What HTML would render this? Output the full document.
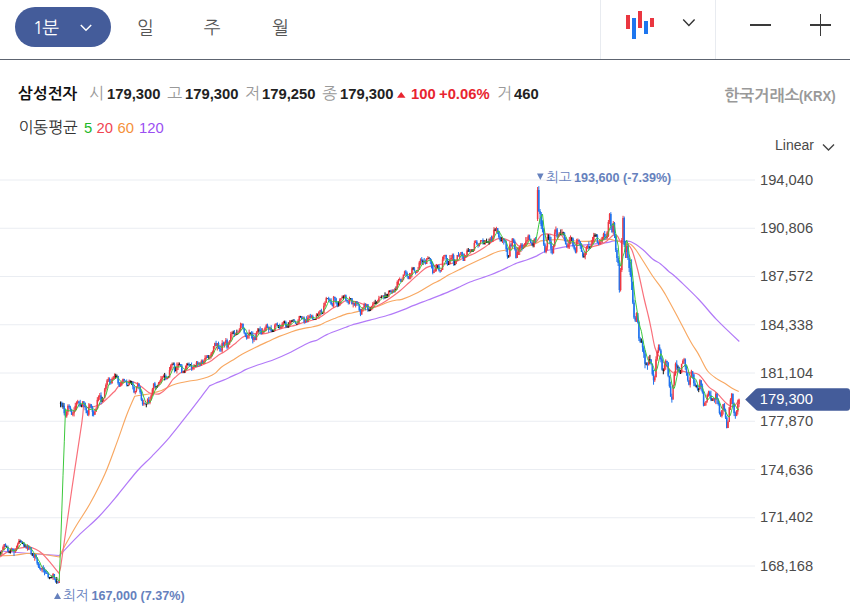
<!DOCTYPE html>
<html lang="ko"><head><meta charset="utf-8">
<style>
*{margin:0;padding:0;box-sizing:border-box}
html,body{width:862px;height:613px;overflow:hidden;background:#fff}
body{position:relative;font-family:"Liberation Sans","Noto Sans CJK KR",sans-serif;color:#222}
.abs{position:absolute}
#hdr{position:absolute;left:0;top:0;width:850px;height:60px;border-bottom:1px solid #5d6470}
#btn{position:absolute;left:15px;top:7px;width:96px;height:40px;border-radius:20px;background:#445c9a}
#btn .t{position:absolute;left:17.8px;top:8.7px;letter-spacing:-1.4px;font-size:18px;color:#fff;line-height:24px;font-family:"NanumGothic",sans-serif}
.tab{position:absolute;top:16px;font-size:18px;line-height:24px;color:#555;font-family:"NanumGothic",sans-serif}
.sep{position:absolute;top:0;width:1px;height:59px;background:#e8ebf0}
#info{position:absolute;left:0;top:83px;width:600px;height:22px}
#info .k{position:absolute;top:0;font-size:14.8px;line-height:20px;white-space:nowrap}
#info b{font-weight:bold;color:#222;font-size:15.4px !important;transform:scaleX(0.96);margin-top:1px;transform-origin:0 50%}
#info .g{color:#999;font-family:"NanumGothic",sans-serif;font-size:16px;top:0px}
#info .r{color:#e8242f;font-weight:bold}
#info .n{font-weight:bold;font-size:15.8px;top:0.6px;font-family:"NanumGothic",sans-serif;color:#111}
#krx{position:absolute;left:0;top:84px;width:862px;height:22px;line-height:20px;color:#999;font-weight:bold;white-space:nowrap}
#ma{position:absolute;left:0;top:117px;width:300px;height:22px;color:#333}
#ma .k{position:absolute;top:0;font-size:14.8px;line-height:20px;white-space:nowrap}
#linear{position:absolute;left:775px;top:135px;font-size:14px;line-height:20px;color:#4a4a4a}
.yl{position:absolute;left:760.3px;font-size:15.3px;line-height:18px;color:#4b4b4b;transform:scaleX(0.96);transform-origin:0 50%}
#cur{position:absolute;left:745px;top:388px;width:105px;height:23px}
#cur .t{position:absolute;left:16px;top:2px;font-size:14px;line-height:18px;color:#fff}
.ann{position:absolute;font-size:12.6px;line-height:16px;color:#6681bd;white-space:nowrap}
.ann.h{font-family:"NanumGothic",sans-serif;font-size:13.6px;font-weight:400;line-height:18px}
.ann b{font-weight:bold}
</style></head><body>
<div id="hdr">
  <div id="btn"><div class="t">1분</div>
    <svg class="abs" style="left:65px;top:17px" width="12" height="8" viewBox="0 0 12 8"><polyline points="0.8,1 6,6.2 11.2,1" fill="none" stroke="#fff" stroke-width="1.5"/></svg>
  </div>
  <div class="tab" style="left:137px">일</div>
  <div class="tab" style="left:203.8px">주</div>
  <div class="tab" style="left:272px">월</div>
  <div class="sep" style="left:600px"></div>
  <div class="sep" style="left:715px"></div>
  <svg class="abs" style="left:620px;top:5px" width="40" height="40" viewBox="620 5 40 40">
    <rect x="626" y="15" width="4" height="14" fill="#ea3640"/>
    <rect x="632" y="18" width="4" height="21" fill="#1d76ef"/>
    <rect x="638" y="11" width="4" height="17" fill="#ea3640"/>
    <rect x="644" y="21" width="4" height="13" fill="#1d76ef"/>
    <rect x="650" y="18" width="4" height="9" fill="#ea3640"/>
  </svg>
  <svg class="abs" style="left:682px;top:18px" width="14" height="10" viewBox="0 0 14 10"><polyline points="1.2,1.6 6.9,7.4 12.6,1.6" fill="none" stroke="#333" stroke-width="1.4"/></svg>
  <div class="abs" style="left:750px;top:24.1px;width:21px;height:1.7px;background:#3a3a3a"></div>
  <div class="abs" style="left:810px;top:24.1px;width:21px;height:1.7px;background:#3a3a3a"></div>
  <div class="abs" style="left:819.7px;top:14px;width:1.7px;height:22px;background:#3a3a3a"></div>
</div>
<div id="info">
<span class="k n" style="left:18px">삼성전자</span>
<span class="k g" style="left:89px">시</span><b class="k" style="left:107px">179,300</b>
<span class="k g" style="left:167px">고</span><b class="k" style="left:185px">179,300</b>
<span class="k g" style="left:245px">저</span><b class="k" style="left:262px">179,250</b>
<span class="k g" style="left:322px">종</span><b class="k" style="left:340px">179,300</b>
<svg class="k" style="left:396px;top:8px" width="11" height="8" viewBox="396 91 11 8"><polygon points="397,97.8 401.2,92 405.5,97.8" fill="#e8242f"/></svg><b class="k r" style="left:411px">100</b><b class="k r" style="left:439px">+0.06%</b>
<span class="k g" style="left:497px">거</span><b class="k" style="left:514px">460</b>
</div>
<div id="krx"><span style="position:absolute;left:724.3px;top:2px;font-family:'NanumGothic',sans-serif;font-weight:bold;font-size:16px">한국거래소</span><span style="position:absolute;left:799px;top:2px;font-size:15.5px;transform:scaleX(0.85);transform-origin:0 50%">(KRX)</span></div>
<div id="ma"><span class="k" style="left:18.5px;font-family:'NanumGothic',sans-serif;font-size:15.8px;top:0.4px">이동평균</span><span class="k" style="left:84px;top:1px;color:#22b82a">5</span><span class="k" style="left:96.5px;top:1px;color:#f04552">20</span><span class="k" style="left:117.5px;top:1px;color:#f5913a">60</span><span class="k" style="left:139px;top:1px;color:#9b4ff2">120</span></div>
<div id="linear">Linear</div>
<svg class="abs" style="left:822px;top:143px" width="14" height="9" viewBox="0 0 14 9"><polyline points="1,1.5 6.5,7 12,1.5" fill="none" stroke="#444" stroke-width="1.4"/></svg>
<svg class="abs" style="left:0;top:0" width="862" height="613">
<line x1="0" y1="180.00" x2="755" y2="180.00" stroke="#eaedf2" stroke-width="1"/>
<line x1="0" y1="228.25" x2="755" y2="228.25" stroke="#eaedf2" stroke-width="1"/>
<line x1="0" y1="276.50" x2="755" y2="276.50" stroke="#eaedf2" stroke-width="1"/>
<line x1="0" y1="324.75" x2="755" y2="324.75" stroke="#eaedf2" stroke-width="1"/>
<line x1="0" y1="373.00" x2="755" y2="373.00" stroke="#eaedf2" stroke-width="1"/>
<line x1="0" y1="421.25" x2="755" y2="421.25" stroke="#eaedf2" stroke-width="1"/>
<line x1="0" y1="469.50" x2="755" y2="469.50" stroke="#eaedf2" stroke-width="1"/>
<line x1="0" y1="517.75" x2="755" y2="517.75" stroke="#eaedf2" stroke-width="1"/>
<line x1="0" y1="566.00" x2="755" y2="566.00" stroke="#eaedf2" stroke-width="1"/>
<path d="M0.00,551.00 C0.00,551.00 20.08,552.75 30.00,553.50 C39.92,554.25 59.50,555.50 59.50,555.50 C59.50,555.50 71.92,542.10 78.50,535.60 C85.08,529.10 92.40,523.35 99.00,516.50 C105.60,509.65 111.73,502.08 118.10,494.50 C124.47,486.92 131.57,477.37 137.20,471.00 C142.83,464.63 146.52,461.92 151.90,456.30 C157.28,450.68 163.63,444.15 169.50,437.30 C175.37,430.45 181.72,422.07 187.10,415.20 C192.48,408.33 198.07,400.98 201.80,396.10 C205.29,391.53 209.50,385.90 209.50,385.90 C209.50,385.90 213.07,384.27 215.40,383.30 C217.73,382.33 220.78,381.25 223.50,380.10 C226.22,378.95 228.97,377.63 231.70,376.40 C234.43,375.17 237.68,373.78 239.90,372.70 C242.12,371.62 242.61,370.96 245.00,369.90 C247.52,368.78 250.45,367.61 255.00,366.00 C259.67,364.35 267.33,362.17 273.00,360.00 C278.67,357.83 283.03,355.88 289.00,353.00 C294.97,350.12 304.07,344.87 308.80,342.70 C312.49,341.01 314.40,341.35 317.40,340.00 C320.40,338.65 322.35,336.59 326.80,334.60 C331.57,332.47 341.80,328.80 346.00,327.20 C348.69,326.18 349.24,325.81 352.00,325.00 C355.98,323.83 363.93,321.82 369.90,320.20 C375.87,318.58 382.28,317.02 387.80,315.30 C393.32,313.58 398.67,311.55 403.00,309.90 C407.33,308.25 409.67,307.05 413.80,305.40 C417.93,303.75 422.63,302.00 427.80,300.00 C432.97,298.00 439.43,295.62 444.80,293.40 C450.17,291.18 455.80,288.60 460.00,286.70 C464.20,284.80 465.36,283.80 470.00,282.00 C475.03,280.05 485.05,276.92 490.20,275.00 C495.10,273.18 496.43,272.50 500.90,270.50 C505.37,268.50 512.72,264.75 517.00,263.00 C521.19,261.29 523.37,261.15 526.60,260.00 C529.83,258.85 533.27,257.57 536.40,256.10 C539.53,254.63 542.40,252.38 545.40,251.20 C548.40,250.02 551.42,249.67 554.40,249.00 C557.38,248.33 560.03,247.80 563.30,247.20 C566.57,246.60 571.22,245.70 574.00,245.40 C576.68,245.11 577.52,245.55 580.00,245.40 C582.48,245.25 585.92,244.80 588.90,244.50 C591.88,244.20 594.90,243.90 597.90,243.60 C600.90,243.30 604.22,243.15 606.90,242.70 C609.58,242.25 611.32,241.13 614.00,240.90 C616.68,240.67 620.17,241.15 623.00,241.30 C625.83,241.45 627.72,240.43 631.00,241.80 C634.28,243.17 639.10,246.63 642.70,249.50 C646.30,252.37 649.62,256.60 652.60,259.00 C655.58,261.40 658.03,261.95 660.60,263.90 C663.17,265.85 665.77,268.77 668.00,270.70 C670.23,272.63 672.00,273.78 674.00,275.50 C676.00,277.22 677.37,278.45 680.00,281.00 C684.22,285.08 693.23,293.60 699.30,300.00 C705.37,306.40 709.73,312.48 716.40,319.40 C723.07,326.32 739.30,341.50 739.30,341.50" fill="none" stroke="#b27af8" stroke-width="1.2"/>
<path d="M0.00,555.70 C0.00,555.70 9.32,555.70 14.70,555.30 C20.08,554.90 24.83,553.02 32.30,553.30 C39.77,553.58 59.50,557.00 59.50,557.00 C59.50,557.00 60.90,553.20 60.90,553.20 C60.90,553.20 70.72,535.12 75.60,526.80 C80.48,518.48 85.32,512.10 90.20,503.30 C95.08,494.50 100.48,484.03 104.90,474.00 C109.32,463.97 113.07,452.93 116.70,443.10 C120.33,433.27 123.70,422.80 126.70,415.00 C129.70,407.20 134.70,396.30 134.70,396.30 C134.70,396.30 139.50,395.38 141.90,395.00 C144.30,394.62 146.85,394.45 149.10,394.00 C151.35,393.55 153.32,392.88 155.40,392.30 C157.48,391.72 159.67,391.25 161.60,390.50 C163.53,389.75 164.77,388.85 167.00,387.80 C169.23,386.75 171.25,385.33 175.00,384.20 C178.75,383.07 185.82,381.70 189.50,381.00 C192.89,380.36 194.03,380.67 197.10,380.00 C200.17,379.33 204.92,378.10 207.90,377.00 C210.88,375.90 212.77,375.03 215.00,373.40 C217.23,371.77 218.47,369.33 221.30,367.20 C224.13,365.07 228.47,362.82 232.00,360.60 C235.53,358.38 238.52,356.13 242.50,353.90 C246.48,351.67 251.42,349.37 255.90,347.20 C260.38,345.03 265.52,342.70 269.40,340.90 C273.28,339.10 275.93,337.75 279.20,336.40 C282.47,335.05 285.62,333.97 289.00,332.80 C292.38,331.63 295.52,330.42 299.50,329.40 C303.48,328.38 309.47,327.45 312.90,326.70 C316.16,325.99 317.85,325.72 320.10,324.90 C322.35,324.08 323.87,322.92 326.40,321.80 C328.93,320.68 332.03,319.48 335.30,318.20 C338.57,316.92 343.22,314.97 346.00,314.10 C348.62,313.28 349.52,313.55 352.00,313.00 C354.48,312.45 357.92,311.53 360.90,310.80 C363.88,310.07 366.90,309.42 369.90,308.60 C372.90,307.78 375.92,306.95 378.90,305.90 C381.88,304.85 384.82,303.28 387.80,302.30 C390.78,301.32 394.43,300.48 396.80,300.00 C399.11,299.53 399.78,300.19 402.00,299.40 C405.52,298.15 413.00,294.98 417.90,292.50 C422.80,290.02 427.65,286.58 431.40,284.50 C435.15,282.42 437.42,281.65 440.40,280.00 C443.38,278.35 446.28,276.27 449.30,274.60 C452.32,272.93 454.97,271.77 458.50,270.00 C462.03,268.23 466.27,266.05 470.50,264.00 C474.73,261.95 479.42,259.73 483.90,257.70 C488.38,255.67 493.67,253.08 497.40,251.80 C501.13,250.52 503.37,250.63 506.30,250.00 C509.23,249.37 512.22,248.47 515.00,248.00 C517.78,247.53 520.17,247.72 523.00,247.20 C525.83,246.68 529.62,245.65 532.00,244.90 C534.38,244.15 535.82,243.37 537.30,242.70 C538.78,242.03 539.13,241.28 540.90,240.90 C543.00,240.45 546.92,240.23 549.90,240.00 C552.88,239.77 555.82,239.43 558.80,239.50 C561.78,239.57 565.27,240.17 567.80,240.40 C570.33,240.63 571.22,240.75 574.00,240.90 C576.78,241.05 580.52,241.30 584.50,241.30 C588.48,241.30 593.87,241.27 597.90,240.90 C601.93,240.53 605.72,239.10 608.70,239.10 C611.68,239.10 613.12,240.30 615.80,240.90 C618.48,241.50 622.27,242.10 624.80,242.70 C627.33,243.30 629.13,243.28 631.00,244.50 C632.87,245.72 634.02,247.30 636.00,250.00 C638.10,252.87 640.83,257.37 643.60,261.70 C646.37,266.03 649.77,271.82 652.60,276.00 C655.43,280.18 658.52,283.80 660.60,286.80 C662.68,289.80 663.45,291.17 665.10,294.00 C666.75,296.83 668.17,299.52 670.50,303.80 C672.83,308.08 676.35,314.50 679.10,319.70 C681.85,324.90 684.85,330.95 687.00,335.00 C689.15,339.05 690.17,340.93 692.00,344.00 C693.83,347.07 696.42,350.73 698.00,353.40 C699.58,356.07 699.90,357.07 701.50,360.00 C703.10,362.93 705.15,367.93 707.60,371.00 C710.05,374.07 713.35,376.35 716.20,378.40 C719.05,380.45 722.05,381.67 724.70,383.30 C727.35,384.93 729.75,386.82 732.10,388.20 C734.45,389.58 738.80,391.60 738.80,391.60" fill="none" stroke="#f8a862" stroke-width="1.15"/>
<path d="M0.00,557.00 C0.00,557.00 6.53,552.08 9.80,550.60 C13.07,549.12 16.33,548.68 19.60,548.10 C22.87,547.52 26.78,546.93 29.40,547.10 C32.02,547.27 33.18,548.03 35.30,549.10 C37.42,550.17 39.50,551.13 42.10,553.50 C44.70,555.87 48.12,560.03 50.90,563.30 C53.68,566.57 58.80,573.10 58.80,573.10 C58.80,573.10 60.13,570.39 60.50,568.00 C62.70,553.82 68.45,512.17 72.00,488.00 C75.55,463.83 79.87,436.72 81.80,423.00 C82.89,415.25 83.60,405.70 83.60,405.70 C83.60,405.70 85.88,407.35 87.60,407.50 C89.32,407.65 91.67,407.20 93.90,406.60 C96.13,406.00 98.62,405.40 101.00,403.90 C103.38,402.40 106.10,399.55 108.20,397.60 C110.30,395.65 112.47,393.30 113.60,392.20 C114.20,391.62 114.46,391.63 115.00,391.00 C116.13,389.67 118.15,385.78 120.40,384.20 C122.65,382.62 125.97,381.72 128.50,381.50 C131.03,381.28 133.37,382.00 135.60,382.90 C137.83,383.80 139.65,385.27 141.90,386.90 C144.15,388.53 146.85,391.52 149.10,392.70 C151.35,393.88 153.62,393.85 155.40,394.00 C157.18,394.15 158.05,394.54 159.80,393.60 C161.73,392.57 164.90,390.07 167.00,387.80 C169.10,385.53 171.07,381.72 172.40,380.00 C173.40,378.72 173.78,378.57 175.00,377.50 C176.43,376.25 178.50,373.85 181.00,372.50 C183.50,371.15 187.02,370.43 190.00,369.40 C192.98,368.37 195.62,367.57 198.90,366.30 C202.18,365.03 206.72,363.45 209.70,361.80 C212.68,360.15 214.42,358.05 216.80,356.40 C219.18,354.75 221.97,353.22 224.00,351.90 C226.03,350.58 227.67,349.48 229.00,348.50 C230.33,347.52 230.80,346.97 232.00,346.00 C233.20,345.03 234.45,344.15 236.20,342.70 C237.95,341.25 240.27,338.65 242.50,337.30 C244.73,335.95 247.37,335.20 249.60,334.60 C251.83,334.00 253.35,333.85 255.90,333.70 C258.45,333.55 261.92,334.15 264.90,333.70 C267.88,333.25 270.82,331.90 273.80,331.00 C276.78,330.10 280.27,329.05 282.80,328.30 C285.33,327.55 286.97,326.98 289.00,326.50 C291.03,326.02 292.52,326.12 295.00,325.40 C297.48,324.68 300.92,323.10 303.90,322.20 C306.88,321.30 310.20,320.82 312.90,320.00 C315.60,319.18 317.85,318.50 320.10,317.30 C322.35,316.10 324.32,314.30 326.40,312.80 C328.48,311.30 330.37,309.72 332.60,308.30 C334.83,306.88 337.73,305.52 339.80,304.30 C341.87,303.08 343.57,301.63 345.00,301.00 C346.41,300.37 346.86,300.39 348.40,300.50 C350.32,300.63 353.67,301.05 356.50,301.80 C359.33,302.55 362.87,304.02 365.40,305.00 C367.93,305.98 369.45,307.70 371.70,307.70 C373.95,307.70 376.52,306.13 378.90,305.00 C381.28,303.87 383.62,302.40 386.00,300.90 C388.38,299.40 390.80,297.73 393.20,296.00 C395.60,294.27 397.77,292.72 400.40,290.50 C403.03,288.28 406.08,285.35 409.00,282.70 C411.92,280.05 414.92,277.15 417.90,274.60 C420.88,272.05 423.90,268.97 426.90,267.40 C429.90,265.83 432.92,265.80 435.90,265.20 C438.88,264.60 442.12,264.10 444.80,263.80 C447.48,263.50 449.72,263.95 452.00,263.40 C454.28,262.85 456.17,261.60 458.50,260.50 C460.83,259.40 463.27,258.02 466.00,256.80 C468.73,255.58 471.92,254.70 474.90,253.20 C477.88,251.70 481.20,249.60 483.90,247.80 C486.60,246.00 488.85,243.90 491.10,242.40 C493.35,240.90 495.17,239.40 497.40,238.80 C499.63,238.20 502.27,238.35 504.50,238.80 C506.73,239.25 509.05,240.97 510.80,241.50 C512.55,242.03 513.57,241.20 515.00,242.00 C516.43,242.80 517.32,246.03 519.40,246.30 C521.48,246.57 524.97,244.05 527.50,243.60 C530.03,243.15 532.37,244.95 534.60,243.60 C536.83,242.25 539.25,237.08 540.90,235.50 C542.15,234.30 543.00,234.33 544.50,234.10 C546.00,233.87 548.10,233.87 549.90,234.10 C551.70,234.33 553.67,235.72 555.30,235.50 C556.93,235.28 558.22,232.20 559.70,232.80 C561.18,233.40 562.55,237.45 564.20,239.10 C565.85,240.75 567.97,242.07 569.60,242.70 C571.23,243.33 572.27,242.75 574.00,242.90 C575.73,243.05 577.97,242.75 580.00,243.60 C582.03,244.45 583.97,247.55 586.20,248.00 C588.43,248.45 591.00,246.88 593.40,246.30 C595.80,245.72 598.35,245.40 600.60,244.50 C602.85,243.60 604.67,242.55 606.90,240.90 C609.13,239.25 612.22,235.35 614.00,234.60 C615.67,233.90 616.40,235.05 617.60,236.40 C618.80,237.75 619.70,241.50 621.20,242.70 C622.70,243.90 624.82,242.38 626.60,243.60 C628.38,244.82 630.46,246.55 631.90,250.00 C633.80,254.57 635.97,262.92 638.00,271.00 C640.03,279.08 642.33,290.83 644.10,298.50 C645.87,306.17 647.40,311.82 648.60,317.00 C649.80,322.18 650.25,324.52 651.30,329.60 C652.35,334.68 653.65,343.13 654.90,347.50 C656.04,351.47 656.92,352.78 658.80,355.80 C660.68,358.82 663.75,362.73 666.20,365.60 C668.65,368.47 671.27,372.18 673.50,373.00 C675.73,373.82 677.77,370.72 679.60,370.50 C681.43,370.28 682.65,371.28 684.50,371.70 C686.35,372.12 688.28,372.50 690.70,373.00 C693.12,373.50 695.98,372.38 699.00,374.70 C702.02,377.02 705.93,383.95 708.80,386.90 C711.67,389.85 713.16,389.58 716.20,392.40 C719.27,395.25 724.35,401.65 727.20,404.00 C729.49,405.89 731.27,407.30 733.30,406.50 C735.33,405.70 739.40,399.20 739.40,399.20" fill="none" stroke="#f9707b" stroke-width="1.2"/>
<g>
<rect x="-0.15" y="554.57" width="1.5" height="0.80" fill="#111"/>
<line x1="0.60" y1="551.58" x2="0.60" y2="554.57" stroke="#111" stroke-width="1"/>
<rect x="1.07" y="550.09" width="1.5" height="4.48" fill="#ee3a44"/>
<rect x="2.29" y="547.10" width="1.5" height="2.99" fill="#ee3a44"/>
<line x1="3.04" y1="545.61" x2="3.04" y2="550.09" stroke="#ee3a44" stroke-width="1"/>
<rect x="3.51" y="544.12" width="1.5" height="2.99" fill="#ee3a44"/>
<line x1="4.26" y1="544.12" x2="4.26" y2="550.23" stroke="#ee3a44" stroke-width="1"/>
<rect x="4.73" y="544.12" width="1.5" height="2.99" fill="#1f73ee"/>
<line x1="5.48" y1="543.38" x2="5.48" y2="547.10" stroke="#1f73ee" stroke-width="1"/>
<rect x="5.95" y="547.10" width="1.5" height="0.80" fill="#111"/>
<line x1="6.70" y1="545.61" x2="6.70" y2="547.10" stroke="#111" stroke-width="1"/>
<rect x="7.17" y="547.10" width="1.5" height="4.48" fill="#1f73ee"/>
<line x1="7.92" y1="545.61" x2="7.92" y2="552.38" stroke="#1f73ee" stroke-width="1"/>
<rect x="8.40" y="551.58" width="1.5" height="0.80" fill="#111"/>
<line x1="9.15" y1="551.58" x2="9.15" y2="553.15" stroke="#111" stroke-width="1"/>
<rect x="9.62" y="551.58" width="1.5" height="0.80" fill="#111"/>
<line x1="10.37" y1="548.60" x2="10.37" y2="553.56" stroke="#111" stroke-width="1"/>
<rect x="10.84" y="548.60" width="1.5" height="2.99" fill="#ee3a44"/>
<line x1="11.59" y1="547.63" x2="11.59" y2="551.58" stroke="#ee3a44" stroke-width="1"/>
<rect x="12.06" y="548.60" width="1.5" height="1.49" fill="#1f73ee"/>
<line x1="12.81" y1="548.30" x2="12.81" y2="551.58" stroke="#1f73ee" stroke-width="1"/>
<rect x="13.28" y="550.09" width="1.5" height="1.49" fill="#1f73ee"/>
<line x1="14.03" y1="548.83" x2="14.03" y2="556.06" stroke="#1f73ee" stroke-width="1"/>
<rect x="14.50" y="550.09" width="1.5" height="1.49" fill="#ee3a44"/>
<line x1="15.25" y1="548.60" x2="15.25" y2="553.07" stroke="#ee3a44" stroke-width="1"/>
<rect x="15.72" y="548.60" width="1.5" height="1.49" fill="#ee3a44"/>
<line x1="16.47" y1="545.61" x2="16.47" y2="551.22" stroke="#ee3a44" stroke-width="1"/>
<rect x="16.94" y="544.12" width="1.5" height="4.48" fill="#ee3a44"/>
<line x1="17.69" y1="542.62" x2="17.69" y2="548.60" stroke="#ee3a44" stroke-width="1"/>
<rect x="18.16" y="541.13" width="1.5" height="2.99" fill="#ee3a44"/>
<line x1="18.91" y1="538.94" x2="18.91" y2="544.12" stroke="#ee3a44" stroke-width="1"/>
<rect x="19.38" y="541.13" width="1.5" height="0.80" fill="#111"/>
<line x1="20.13" y1="539.64" x2="20.13" y2="542.62" stroke="#111" stroke-width="1"/>
<rect x="20.60" y="541.13" width="1.5" height="1.49" fill="#1f73ee"/>
<line x1="21.35" y1="540.25" x2="21.35" y2="542.62" stroke="#1f73ee" stroke-width="1"/>
<rect x="21.82" y="542.62" width="1.5" height="0.80" fill="#111"/>
<line x1="22.57" y1="541.48" x2="22.57" y2="544.12" stroke="#111" stroke-width="1"/>
<rect x="23.05" y="542.62" width="1.5" height="2.99" fill="#1f73ee"/>
<line x1="23.80" y1="542.30" x2="23.80" y2="547.10" stroke="#1f73ee" stroke-width="1"/>
<rect x="24.27" y="545.61" width="1.5" height="0.80" fill="#111"/>
<line x1="25.02" y1="544.12" x2="25.02" y2="547.10" stroke="#111" stroke-width="1"/>
<rect x="25.49" y="545.61" width="1.5" height="2.99" fill="#1f73ee"/>
<rect x="26.71" y="545.61" width="1.5" height="2.99" fill="#ee3a44"/>
<line x1="27.46" y1="544.24" x2="27.46" y2="550.67" stroke="#ee3a44" stroke-width="1"/>
<rect x="27.93" y="545.61" width="1.5" height="2.99" fill="#1f73ee"/>
<line x1="28.68" y1="545.16" x2="28.68" y2="550.09" stroke="#1f73ee" stroke-width="1"/>
<rect x="29.15" y="547.10" width="1.5" height="1.49" fill="#ee3a44"/>
<line x1="29.90" y1="546.08" x2="29.90" y2="550.09" stroke="#ee3a44" stroke-width="1"/>
<rect x="30.37" y="547.10" width="1.5" height="7.46" fill="#1f73ee"/>
<rect x="31.59" y="554.57" width="1.5" height="0.80" fill="#111"/>
<line x1="32.34" y1="553.07" x2="32.34" y2="556.06" stroke="#111" stroke-width="1"/>
<rect x="32.81" y="554.57" width="1.5" height="2.99" fill="#1f73ee"/>
<line x1="33.56" y1="553.07" x2="33.56" y2="557.55" stroke="#1f73ee" stroke-width="1"/>
<rect x="34.03" y="554.57" width="1.5" height="2.99" fill="#ee3a44"/>
<line x1="34.78" y1="553.52" x2="34.78" y2="560.77" stroke="#ee3a44" stroke-width="1"/>
<rect x="35.25" y="554.57" width="1.5" height="2.99" fill="#1f73ee"/>
<line x1="36.00" y1="554.57" x2="36.00" y2="559.05" stroke="#1f73ee" stroke-width="1"/>
<rect x="36.48" y="557.55" width="1.5" height="5.97" fill="#1f73ee"/>
<line x1="37.23" y1="557.55" x2="37.23" y2="565.02" stroke="#1f73ee" stroke-width="1"/>
<rect x="37.70" y="563.53" width="1.5" height="2.99" fill="#1f73ee"/>
<line x1="38.45" y1="562.03" x2="38.45" y2="568.00" stroke="#1f73ee" stroke-width="1"/>
<rect x="38.92" y="566.51" width="1.5" height="1.49" fill="#1f73ee"/>
<line x1="39.67" y1="563.53" x2="39.67" y2="569.50" stroke="#1f73ee" stroke-width="1"/>
<rect x="40.14" y="568.00" width="1.5" height="1.49" fill="#1f73ee"/>
<line x1="40.89" y1="568.00" x2="40.89" y2="570.99" stroke="#1f73ee" stroke-width="1"/>
<rect x="41.36" y="568.00" width="1.5" height="1.49" fill="#ee3a44"/>
<line x1="42.11" y1="566.51" x2="42.11" y2="572.24" stroke="#ee3a44" stroke-width="1"/>
<rect x="42.58" y="568.00" width="1.5" height="1.49" fill="#1f73ee"/>
<line x1="43.33" y1="565.23" x2="43.33" y2="572.48" stroke="#1f73ee" stroke-width="1"/>
<rect x="43.80" y="569.50" width="1.5" height="1.49" fill="#1f73ee"/>
<line x1="44.55" y1="567.36" x2="44.55" y2="575.29" stroke="#1f73ee" stroke-width="1"/>
<rect x="45.02" y="570.99" width="1.5" height="1.49" fill="#1f73ee"/>
<line x1="45.77" y1="569.50" x2="45.77" y2="573.98" stroke="#1f73ee" stroke-width="1"/>
<rect x="46.24" y="572.48" width="1.5" height="1.49" fill="#1f73ee"/>
<line x1="46.99" y1="570.99" x2="46.99" y2="573.98" stroke="#1f73ee" stroke-width="1"/>
<rect x="47.46" y="573.98" width="1.5" height="2.99" fill="#1f73ee"/>
<line x1="48.21" y1="572.48" x2="48.21" y2="578.46" stroke="#1f73ee" stroke-width="1"/>
<rect x="48.68" y="576.96" width="1.5" height="0.80" fill="#111"/>
<line x1="49.43" y1="576.96" x2="49.43" y2="579.21" stroke="#111" stroke-width="1"/>
<rect x="49.90" y="576.96" width="1.5" height="0.80" fill="#111"/>
<line x1="50.65" y1="576.96" x2="50.65" y2="578.46" stroke="#111" stroke-width="1"/>
<rect x="51.13" y="576.96" width="1.5" height="0.80" fill="#111"/>
<line x1="51.88" y1="575.47" x2="51.88" y2="578.46" stroke="#111" stroke-width="1"/>
<rect x="52.35" y="573.98" width="1.5" height="2.99" fill="#ee3a44"/>
<line x1="53.10" y1="573.00" x2="53.10" y2="579.95" stroke="#ee3a44" stroke-width="1"/>
<rect x="53.57" y="573.98" width="1.5" height="4.48" fill="#1f73ee"/>
<line x1="54.32" y1="573.98" x2="54.32" y2="579.95" stroke="#1f73ee" stroke-width="1"/>
<rect x="54.79" y="578.46" width="1.5" height="2.99" fill="#1f73ee"/>
<line x1="55.54" y1="578.46" x2="55.54" y2="582.64" stroke="#1f73ee" stroke-width="1"/>
<rect x="56.01" y="581.44" width="1.5" height="0.80" fill="#111"/>
<line x1="56.76" y1="576.96" x2="56.76" y2="583.86" stroke="#111" stroke-width="1"/>
<rect x="57.23" y="581.44" width="1.5" height="1.49" fill="#1f73ee"/>
<line x1="57.98" y1="581.44" x2="57.98" y2="583.61" stroke="#1f73ee" stroke-width="1"/>
<rect x="58.45" y="581.44" width="1.5" height="1.49" fill="#ee3a44"/>
<line x1="59.20" y1="578.46" x2="59.20" y2="582.93" stroke="#ee3a44" stroke-width="1"/>
<rect x="59.85" y="402.81" width="1.5" height="0.80" fill="#111"/>
<line x1="60.60" y1="401.42" x2="60.60" y2="407.29" stroke="#111" stroke-width="1"/>
<rect x="61.07" y="402.81" width="1.5" height="2.99" fill="#1f73ee"/>
<line x1="61.82" y1="401.62" x2="61.82" y2="407.29" stroke="#1f73ee" stroke-width="1"/>
<rect x="62.30" y="405.80" width="1.5" height="0.80" fill="#111"/>
<line x1="63.05" y1="402.81" x2="63.05" y2="408.79" stroke="#111" stroke-width="1"/>
<rect x="63.52" y="405.80" width="1.5" height="7.46" fill="#1f73ee"/>
<line x1="64.27" y1="403.06" x2="64.27" y2="415.39" stroke="#1f73ee" stroke-width="1"/>
<rect x="64.75" y="413.26" width="1.5" height="2.99" fill="#1f73ee"/>
<line x1="65.50" y1="408.79" x2="65.50" y2="417.43" stroke="#1f73ee" stroke-width="1"/>
<rect x="65.97" y="411.77" width="1.5" height="4.48" fill="#ee3a44"/>
<line x1="66.72" y1="410.28" x2="66.72" y2="417.74" stroke="#ee3a44" stroke-width="1"/>
<rect x="67.20" y="405.80" width="1.5" height="5.97" fill="#ee3a44"/>
<line x1="67.95" y1="404.31" x2="67.95" y2="414.76" stroke="#ee3a44" stroke-width="1"/>
<rect x="68.42" y="405.80" width="1.5" height="1.49" fill="#1f73ee"/>
<line x1="69.17" y1="404.31" x2="69.17" y2="408.79" stroke="#1f73ee" stroke-width="1"/>
<rect x="69.64" y="407.29" width="1.5" height="2.99" fill="#1f73ee"/>
<line x1="70.39" y1="405.80" x2="70.39" y2="411.77" stroke="#1f73ee" stroke-width="1"/>
<rect x="70.87" y="410.28" width="1.5" height="4.48" fill="#1f73ee"/>
<line x1="71.62" y1="408.79" x2="71.62" y2="414.76" stroke="#1f73ee" stroke-width="1"/>
<rect x="72.09" y="413.26" width="1.5" height="1.49" fill="#ee3a44"/>
<line x1="72.84" y1="411.77" x2="72.84" y2="416.25" stroke="#ee3a44" stroke-width="1"/>
<rect x="73.32" y="410.28" width="1.5" height="2.99" fill="#ee3a44"/>
<line x1="74.07" y1="407.29" x2="74.07" y2="416.44" stroke="#ee3a44" stroke-width="1"/>
<rect x="74.54" y="405.80" width="1.5" height="4.48" fill="#ee3a44"/>
<line x1="75.29" y1="402.81" x2="75.29" y2="411.77" stroke="#ee3a44" stroke-width="1"/>
<rect x="75.76" y="402.81" width="1.5" height="2.99" fill="#ee3a44"/>
<line x1="76.51" y1="401.32" x2="76.51" y2="410.28" stroke="#ee3a44" stroke-width="1"/>
<rect x="76.99" y="401.32" width="1.5" height="1.49" fill="#ee3a44"/>
<line x1="77.74" y1="399.83" x2="77.74" y2="404.31" stroke="#ee3a44" stroke-width="1"/>
<rect x="78.21" y="401.32" width="1.5" height="1.49" fill="#1f73ee"/>
<line x1="78.96" y1="401.32" x2="78.96" y2="407.29" stroke="#1f73ee" stroke-width="1"/>
<rect x="79.44" y="402.81" width="1.5" height="2.99" fill="#1f73ee"/>
<line x1="80.19" y1="399.83" x2="80.19" y2="406.62" stroke="#1f73ee" stroke-width="1"/>
<rect x="80.66" y="405.80" width="1.5" height="0.80" fill="#111"/>
<line x1="81.41" y1="404.31" x2="81.41" y2="407.29" stroke="#111" stroke-width="1"/>
<rect x="81.89" y="401.32" width="1.5" height="4.48" fill="#ee3a44"/>
<line x1="82.64" y1="401.32" x2="82.64" y2="407.29" stroke="#ee3a44" stroke-width="1"/>
<rect x="83.11" y="401.32" width="1.5" height="1.49" fill="#1f73ee"/>
<line x1="83.86" y1="401.32" x2="83.86" y2="407.29" stroke="#1f73ee" stroke-width="1"/>
<rect x="84.33" y="402.81" width="1.5" height="4.48" fill="#1f73ee"/>
<line x1="85.08" y1="402.51" x2="85.08" y2="410.28" stroke="#1f73ee" stroke-width="1"/>
<rect x="85.56" y="407.29" width="1.5" height="5.97" fill="#1f73ee"/>
<rect x="86.78" y="413.26" width="1.5" height="1.49" fill="#1f73ee"/>
<line x1="87.53" y1="410.28" x2="87.53" y2="415.77" stroke="#1f73ee" stroke-width="1"/>
<rect x="88.01" y="407.29" width="1.5" height="7.46" fill="#ee3a44"/>
<line x1="88.76" y1="403.16" x2="88.76" y2="416.25" stroke="#ee3a44" stroke-width="1"/>
<rect x="89.23" y="404.31" width="1.5" height="2.99" fill="#ee3a44"/>
<line x1="89.98" y1="403.57" x2="89.98" y2="407.29" stroke="#ee3a44" stroke-width="1"/>
<rect x="90.46" y="404.31" width="1.5" height="2.99" fill="#1f73ee"/>
<line x1="91.21" y1="403.99" x2="91.21" y2="408.79" stroke="#1f73ee" stroke-width="1"/>
<rect x="91.68" y="407.29" width="1.5" height="4.48" fill="#1f73ee"/>
<line x1="92.43" y1="405.80" x2="92.43" y2="416.25" stroke="#1f73ee" stroke-width="1"/>
<rect x="92.90" y="411.77" width="1.5" height="2.99" fill="#1f73ee"/>
<line x1="93.65" y1="410.28" x2="93.65" y2="416.46" stroke="#1f73ee" stroke-width="1"/>
<rect x="94.13" y="411.77" width="1.5" height="2.99" fill="#ee3a44"/>
<line x1="94.88" y1="408.79" x2="94.88" y2="414.76" stroke="#ee3a44" stroke-width="1"/>
<rect x="95.35" y="408.79" width="1.5" height="2.99" fill="#ee3a44"/>
<line x1="96.10" y1="407.29" x2="96.10" y2="411.77" stroke="#ee3a44" stroke-width="1"/>
<rect x="96.58" y="399.83" width="1.5" height="8.96" fill="#ee3a44"/>
<line x1="97.33" y1="397.20" x2="97.33" y2="408.79" stroke="#ee3a44" stroke-width="1"/>
<rect x="97.80" y="396.84" width="1.5" height="2.99" fill="#ee3a44"/>
<line x1="98.55" y1="395.35" x2="98.55" y2="401.32" stroke="#ee3a44" stroke-width="1"/>
<rect x="99.03" y="395.35" width="1.5" height="1.49" fill="#ee3a44"/>
<line x1="99.78" y1="393.09" x2="99.78" y2="399.83" stroke="#ee3a44" stroke-width="1"/>
<rect x="100.25" y="395.35" width="1.5" height="5.97" fill="#1f73ee"/>
<line x1="101.00" y1="392.36" x2="101.00" y2="404.31" stroke="#1f73ee" stroke-width="1"/>
<rect x="101.47" y="401.32" width="1.5" height="0.80" fill="#111"/>
<line x1="102.22" y1="396.84" x2="102.22" y2="401.32" stroke="#111" stroke-width="1"/>
<rect x="102.70" y="398.33" width="1.5" height="2.99" fill="#ee3a44"/>
<rect x="103.92" y="389.38" width="1.5" height="8.96" fill="#ee3a44"/>
<line x1="104.67" y1="387.88" x2="104.67" y2="398.33" stroke="#ee3a44" stroke-width="1"/>
<rect x="105.15" y="384.90" width="1.5" height="4.48" fill="#ee3a44"/>
<line x1="105.90" y1="383.40" x2="105.90" y2="391.69" stroke="#ee3a44" stroke-width="1"/>
<rect x="106.37" y="380.42" width="1.5" height="4.48" fill="#ee3a44"/>
<line x1="107.12" y1="379.04" x2="107.12" y2="387.88" stroke="#ee3a44" stroke-width="1"/>
<rect x="107.59" y="378.93" width="1.5" height="1.49" fill="#ee3a44"/>
<line x1="108.34" y1="377.28" x2="108.34" y2="381.91" stroke="#ee3a44" stroke-width="1"/>
<rect x="108.82" y="378.93" width="1.5" height="2.99" fill="#1f73ee"/>
<line x1="109.57" y1="377.43" x2="109.57" y2="384.90" stroke="#1f73ee" stroke-width="1"/>
<rect x="110.04" y="381.91" width="1.5" height="1.49" fill="#1f73ee"/>
<line x1="110.79" y1="378.93" x2="110.79" y2="384.60" stroke="#1f73ee" stroke-width="1"/>
<rect x="111.27" y="378.93" width="1.5" height="4.48" fill="#ee3a44"/>
<line x1="112.02" y1="377.43" x2="112.02" y2="383.40" stroke="#ee3a44" stroke-width="1"/>
<rect x="112.49" y="377.43" width="1.5" height="1.49" fill="#ee3a44"/>
<line x1="113.24" y1="375.94" x2="113.24" y2="380.42" stroke="#ee3a44" stroke-width="1"/>
<rect x="113.72" y="375.94" width="1.5" height="1.49" fill="#ee3a44"/>
<line x1="114.47" y1="373.41" x2="114.47" y2="378.93" stroke="#ee3a44" stroke-width="1"/>
<rect x="114.94" y="375.94" width="1.5" height="0.80" fill="#111"/>
<line x1="115.69" y1="373.70" x2="115.69" y2="378.93" stroke="#111" stroke-width="1"/>
<rect x="116.16" y="375.94" width="1.5" height="0.80" fill="#111"/>
<line x1="116.91" y1="374.55" x2="116.91" y2="377.43" stroke="#111" stroke-width="1"/>
<rect x="117.39" y="375.94" width="1.5" height="7.46" fill="#1f73ee"/>
<line x1="118.14" y1="375.94" x2="118.14" y2="384.90" stroke="#1f73ee" stroke-width="1"/>
<rect x="118.61" y="383.40" width="1.5" height="2.99" fill="#1f73ee"/>
<line x1="119.36" y1="381.91" x2="119.36" y2="387.05" stroke="#1f73ee" stroke-width="1"/>
<rect x="119.84" y="384.90" width="1.5" height="1.49" fill="#ee3a44"/>
<line x1="120.59" y1="381.91" x2="120.59" y2="386.54" stroke="#ee3a44" stroke-width="1"/>
<rect x="121.06" y="381.91" width="1.5" height="2.99" fill="#ee3a44"/>
<line x1="121.81" y1="380.42" x2="121.81" y2="385.91" stroke="#ee3a44" stroke-width="1"/>
<rect x="122.29" y="378.93" width="1.5" height="2.99" fill="#ee3a44"/>
<line x1="123.04" y1="378.61" x2="123.04" y2="383.40" stroke="#ee3a44" stroke-width="1"/>
<rect x="123.51" y="378.93" width="1.5" height="1.49" fill="#1f73ee"/>
<line x1="124.26" y1="378.93" x2="124.26" y2="381.91" stroke="#1f73ee" stroke-width="1"/>
<rect x="124.73" y="380.42" width="1.5" height="1.49" fill="#1f73ee"/>
<rect x="125.96" y="381.91" width="1.5" height="2.99" fill="#1f73ee"/>
<line x1="126.71" y1="379.50" x2="126.71" y2="386.39" stroke="#1f73ee" stroke-width="1"/>
<rect x="127.18" y="384.90" width="1.5" height="0.80" fill="#111"/>
<line x1="127.93" y1="384.90" x2="127.93" y2="386.33" stroke="#111" stroke-width="1"/>
<rect x="128.41" y="381.91" width="1.5" height="2.99" fill="#ee3a44"/>
<line x1="129.16" y1="379.58" x2="129.16" y2="385.58" stroke="#ee3a44" stroke-width="1"/>
<rect x="129.63" y="381.91" width="1.5" height="0.80" fill="#111"/>
<line x1="130.38" y1="380.42" x2="130.38" y2="383.40" stroke="#111" stroke-width="1"/>
<rect x="130.86" y="381.91" width="1.5" height="0.80" fill="#111"/>
<line x1="131.61" y1="380.84" x2="131.61" y2="384.90" stroke="#111" stroke-width="1"/>
<rect x="132.08" y="381.91" width="1.5" height="4.48" fill="#1f73ee"/>
<line x1="132.83" y1="381.23" x2="132.83" y2="389.38" stroke="#1f73ee" stroke-width="1"/>
<rect x="133.30" y="386.39" width="1.5" height="5.97" fill="#1f73ee"/>
<line x1="134.05" y1="386.39" x2="134.05" y2="393.15" stroke="#1f73ee" stroke-width="1"/>
<rect x="134.53" y="390.87" width="1.5" height="1.49" fill="#ee3a44"/>
<line x1="135.28" y1="390.87" x2="135.28" y2="394.38" stroke="#ee3a44" stroke-width="1"/>
<rect x="135.75" y="386.39" width="1.5" height="4.48" fill="#ee3a44"/>
<line x1="136.50" y1="386.39" x2="136.50" y2="392.36" stroke="#ee3a44" stroke-width="1"/>
<rect x="136.98" y="383.40" width="1.5" height="2.99" fill="#ee3a44"/>
<line x1="137.73" y1="382.18" x2="137.73" y2="387.88" stroke="#ee3a44" stroke-width="1"/>
<rect x="138.20" y="383.40" width="1.5" height="2.99" fill="#1f73ee"/>
<line x1="138.95" y1="383.40" x2="138.95" y2="389.38" stroke="#1f73ee" stroke-width="1"/>
<rect x="139.42" y="386.39" width="1.5" height="5.97" fill="#1f73ee"/>
<line x1="140.17" y1="386.39" x2="140.17" y2="393.86" stroke="#1f73ee" stroke-width="1"/>
<rect x="140.65" y="392.36" width="1.5" height="7.46" fill="#1f73ee"/>
<line x1="141.40" y1="390.87" x2="141.40" y2="401.09" stroke="#1f73ee" stroke-width="1"/>
<rect x="141.87" y="399.83" width="1.5" height="4.48" fill="#1f73ee"/>
<line x1="142.62" y1="398.33" x2="142.62" y2="405.80" stroke="#1f73ee" stroke-width="1"/>
<rect x="143.10" y="402.81" width="1.5" height="1.49" fill="#ee3a44"/>
<line x1="143.85" y1="399.83" x2="143.85" y2="405.80" stroke="#ee3a44" stroke-width="1"/>
<rect x="144.32" y="402.81" width="1.5" height="1.49" fill="#1f73ee"/>
<rect x="145.55" y="404.31" width="1.5" height="0.80" fill="#111"/>
<line x1="146.30" y1="403.49" x2="146.30" y2="407.29" stroke="#111" stroke-width="1"/>
<rect x="146.77" y="399.83" width="1.5" height="4.48" fill="#ee3a44"/>
<line x1="147.52" y1="398.33" x2="147.52" y2="404.31" stroke="#ee3a44" stroke-width="1"/>
<rect x="147.99" y="399.83" width="1.5" height="2.99" fill="#1f73ee"/>
<line x1="148.74" y1="396.84" x2="148.74" y2="404.31" stroke="#1f73ee" stroke-width="1"/>
<rect x="149.22" y="399.83" width="1.5" height="2.99" fill="#ee3a44"/>
<line x1="149.97" y1="396.84" x2="149.97" y2="404.31" stroke="#ee3a44" stroke-width="1"/>
<rect x="150.44" y="395.35" width="1.5" height="4.48" fill="#ee3a44"/>
<line x1="151.19" y1="393.86" x2="151.19" y2="400.23" stroke="#ee3a44" stroke-width="1"/>
<rect x="151.67" y="389.38" width="1.5" height="5.97" fill="#ee3a44"/>
<line x1="152.42" y1="387.88" x2="152.42" y2="396.06" stroke="#ee3a44" stroke-width="1"/>
<rect x="152.89" y="383.40" width="1.5" height="5.97" fill="#ee3a44"/>
<line x1="153.64" y1="383.40" x2="153.64" y2="393.57" stroke="#ee3a44" stroke-width="1"/>
<rect x="154.12" y="383.40" width="1.5" height="2.99" fill="#1f73ee"/>
<line x1="154.87" y1="381.91" x2="154.87" y2="387.88" stroke="#1f73ee" stroke-width="1"/>
<rect x="155.34" y="386.39" width="1.5" height="0.80" fill="#111"/>
<line x1="156.09" y1="386.39" x2="156.09" y2="389.38" stroke="#111" stroke-width="1"/>
<rect x="156.56" y="386.39" width="1.5" height="0.80" fill="#111"/>
<line x1="157.31" y1="384.90" x2="157.31" y2="387.73" stroke="#111" stroke-width="1"/>
<rect x="157.79" y="383.40" width="1.5" height="2.99" fill="#ee3a44"/>
<line x1="158.54" y1="381.91" x2="158.54" y2="386.39" stroke="#ee3a44" stroke-width="1"/>
<rect x="159.01" y="381.91" width="1.5" height="1.49" fill="#ee3a44"/>
<line x1="159.76" y1="380.42" x2="159.76" y2="384.89" stroke="#ee3a44" stroke-width="1"/>
<rect x="160.24" y="378.93" width="1.5" height="2.99" fill="#ee3a44"/>
<line x1="160.99" y1="375.94" x2="160.99" y2="383.40" stroke="#ee3a44" stroke-width="1"/>
<rect x="161.46" y="377.43" width="1.5" height="1.49" fill="#ee3a44"/>
<line x1="162.21" y1="375.94" x2="162.21" y2="380.42" stroke="#ee3a44" stroke-width="1"/>
<rect x="162.69" y="375.94" width="1.5" height="1.49" fill="#ee3a44"/>
<line x1="163.44" y1="374.45" x2="163.44" y2="377.43" stroke="#ee3a44" stroke-width="1"/>
<rect x="163.91" y="375.94" width="1.5" height="0.80" fill="#111"/>
<line x1="164.66" y1="372.95" x2="164.66" y2="380.42" stroke="#111" stroke-width="1"/>
<rect x="165.13" y="375.94" width="1.5" height="2.99" fill="#1f73ee"/>
<line x1="165.88" y1="374.45" x2="165.88" y2="380.10" stroke="#1f73ee" stroke-width="1"/>
<rect x="166.36" y="377.43" width="1.5" height="1.49" fill="#ee3a44"/>
<line x1="167.11" y1="377.43" x2="167.11" y2="379.52" stroke="#ee3a44" stroke-width="1"/>
<rect x="167.58" y="377.43" width="1.5" height="0.80" fill="#111"/>
<line x1="168.33" y1="375.94" x2="168.33" y2="377.43" stroke="#111" stroke-width="1"/>
<rect x="168.81" y="369.97" width="1.5" height="7.46" fill="#ee3a44"/>
<line x1="169.56" y1="366.98" x2="169.56" y2="377.43" stroke="#ee3a44" stroke-width="1"/>
<rect x="170.03" y="365.49" width="1.5" height="4.48" fill="#ee3a44"/>
<line x1="170.78" y1="364.25" x2="170.78" y2="371.46" stroke="#ee3a44" stroke-width="1"/>
<rect x="171.25" y="364.00" width="1.5" height="1.49" fill="#ee3a44"/>
<line x1="172.00" y1="362.64" x2="172.00" y2="368.47" stroke="#ee3a44" stroke-width="1"/>
<rect x="172.48" y="364.00" width="1.5" height="0.80" fill="#111"/>
<line x1="173.23" y1="362.50" x2="173.23" y2="364.00" stroke="#111" stroke-width="1"/>
<rect x="173.70" y="364.00" width="1.5" height="5.97" fill="#1f73ee"/>
<line x1="174.45" y1="362.50" x2="174.45" y2="372.54" stroke="#1f73ee" stroke-width="1"/>
<rect x="174.93" y="369.97" width="1.5" height="0.80" fill="#111"/>
<line x1="175.68" y1="366.98" x2="175.68" y2="371.46" stroke="#111" stroke-width="1"/>
<rect x="176.15" y="366.98" width="1.5" height="2.99" fill="#ee3a44"/>
<line x1="176.90" y1="362.50" x2="176.90" y2="373.53" stroke="#ee3a44" stroke-width="1"/>
<rect x="177.38" y="364.00" width="1.5" height="2.99" fill="#ee3a44"/>
<line x1="178.13" y1="362.30" x2="178.13" y2="369.97" stroke="#ee3a44" stroke-width="1"/>
<rect x="178.60" y="364.00" width="1.5" height="0.80" fill="#111"/>
<line x1="179.35" y1="362.50" x2="179.35" y2="365.49" stroke="#111" stroke-width="1"/>
<rect x="179.82" y="364.00" width="1.5" height="1.49" fill="#1f73ee"/>
<line x1="180.57" y1="364.00" x2="180.57" y2="366.98" stroke="#1f73ee" stroke-width="1"/>
<rect x="181.05" y="365.49" width="1.5" height="7.46" fill="#1f73ee"/>
<line x1="181.80" y1="364.00" x2="181.80" y2="373.27" stroke="#1f73ee" stroke-width="1"/>
<rect x="182.27" y="371.46" width="1.5" height="1.49" fill="#ee3a44"/>
<line x1="183.02" y1="371.46" x2="183.02" y2="373.21" stroke="#ee3a44" stroke-width="1"/>
<rect x="183.50" y="371.46" width="1.5" height="0.80" fill="#111"/>
<line x1="184.25" y1="369.97" x2="184.25" y2="373.14" stroke="#111" stroke-width="1"/>
<rect x="184.72" y="368.47" width="1.5" height="2.99" fill="#ee3a44"/>
<line x1="185.47" y1="365.49" x2="185.47" y2="372.93" stroke="#ee3a44" stroke-width="1"/>
<rect x="185.95" y="364.00" width="1.5" height="4.48" fill="#ee3a44"/>
<line x1="186.70" y1="363.04" x2="186.70" y2="369.97" stroke="#ee3a44" stroke-width="1"/>
<rect x="187.17" y="364.00" width="1.5" height="0.80" fill="#111"/>
<line x1="187.92" y1="362.78" x2="187.92" y2="365.49" stroke="#111" stroke-width="1"/>
<rect x="188.39" y="364.00" width="1.5" height="1.49" fill="#1f73ee"/>
<line x1="189.14" y1="362.52" x2="189.14" y2="366.98" stroke="#1f73ee" stroke-width="1"/>
<rect x="189.62" y="365.49" width="1.5" height="0.80" fill="#111"/>
<line x1="190.37" y1="364.00" x2="190.37" y2="365.49" stroke="#111" stroke-width="1"/>
<rect x="190.84" y="365.49" width="1.5" height="2.99" fill="#1f73ee"/>
<line x1="191.59" y1="362.50" x2="191.59" y2="370.77" stroke="#1f73ee" stroke-width="1"/>
<rect x="192.07" y="366.98" width="1.5" height="1.49" fill="#ee3a44"/>
<line x1="192.82" y1="366.98" x2="192.82" y2="370.34" stroke="#ee3a44" stroke-width="1"/>
<rect x="193.29" y="365.49" width="1.5" height="1.49" fill="#ee3a44"/>
<line x1="194.04" y1="364.00" x2="194.04" y2="369.78" stroke="#ee3a44" stroke-width="1"/>
<rect x="194.51" y="365.49" width="1.5" height="0.80" fill="#111"/>
<line x1="195.26" y1="365.49" x2="195.26" y2="366.98" stroke="#111" stroke-width="1"/>
<rect x="195.74" y="362.50" width="1.5" height="2.99" fill="#ee3a44"/>
<line x1="196.49" y1="361.00" x2="196.49" y2="366.98" stroke="#ee3a44" stroke-width="1"/>
<rect x="196.96" y="362.50" width="1.5" height="1.49" fill="#1f73ee"/>
<line x1="197.71" y1="361.01" x2="197.71" y2="366.98" stroke="#1f73ee" stroke-width="1"/>
<rect x="198.19" y="362.50" width="1.5" height="1.49" fill="#ee3a44"/>
<line x1="198.94" y1="362.50" x2="198.94" y2="366.89" stroke="#ee3a44" stroke-width="1"/>
<rect x="199.41" y="362.50" width="1.5" height="2.99" fill="#1f73ee"/>
<line x1="200.16" y1="362.50" x2="200.16" y2="366.23" stroke="#1f73ee" stroke-width="1"/>
<rect x="200.64" y="361.01" width="1.5" height="4.48" fill="#ee3a44"/>
<line x1="201.39" y1="359.52" x2="201.39" y2="365.57" stroke="#ee3a44" stroke-width="1"/>
<rect x="201.86" y="361.01" width="1.5" height="2.99" fill="#1f73ee"/>
<line x1="202.61" y1="359.52" x2="202.61" y2="364.00" stroke="#1f73ee" stroke-width="1"/>
<rect x="203.08" y="361.01" width="1.5" height="2.99" fill="#ee3a44"/>
<line x1="203.83" y1="359.52" x2="203.83" y2="364.27" stroke="#ee3a44" stroke-width="1"/>
<rect x="204.31" y="358.02" width="1.5" height="2.99" fill="#ee3a44"/>
<line x1="205.06" y1="355.20" x2="205.06" y2="363.65" stroke="#ee3a44" stroke-width="1"/>
<rect x="205.53" y="356.53" width="1.5" height="1.49" fill="#ee3a44"/>
<line x1="206.28" y1="355.04" x2="206.28" y2="359.52" stroke="#ee3a44" stroke-width="1"/>
<rect x="206.76" y="356.53" width="1.5" height="1.49" fill="#1f73ee"/>
<line x1="207.51" y1="355.04" x2="207.51" y2="358.02" stroke="#1f73ee" stroke-width="1"/>
<rect x="207.98" y="358.02" width="1.5" height="0.80" fill="#111"/>
<line x1="208.73" y1="355.04" x2="208.73" y2="359.52" stroke="#111" stroke-width="1"/>
<rect x="209.21" y="356.53" width="1.5" height="1.49" fill="#ee3a44"/>
<line x1="209.96" y1="355.04" x2="209.96" y2="359.52" stroke="#ee3a44" stroke-width="1"/>
<rect x="210.43" y="353.54" width="1.5" height="2.99" fill="#ee3a44"/>
<line x1="211.18" y1="352.05" x2="211.18" y2="358.50" stroke="#ee3a44" stroke-width="1"/>
<rect x="211.65" y="352.05" width="1.5" height="1.49" fill="#ee3a44"/>
<line x1="212.40" y1="350.56" x2="212.40" y2="356.53" stroke="#ee3a44" stroke-width="1"/>
<rect x="212.88" y="346.08" width="1.5" height="5.97" fill="#ee3a44"/>
<line x1="213.63" y1="346.08" x2="213.63" y2="353.54" stroke="#ee3a44" stroke-width="1"/>
<rect x="214.10" y="343.09" width="1.5" height="2.99" fill="#ee3a44"/>
<line x1="214.85" y1="342.68" x2="214.85" y2="349.07" stroke="#ee3a44" stroke-width="1"/>
<rect x="215.33" y="343.09" width="1.5" height="2.99" fill="#1f73ee"/>
<line x1="216.08" y1="340.75" x2="216.08" y2="346.08" stroke="#1f73ee" stroke-width="1"/>
<rect x="216.55" y="343.09" width="1.5" height="2.99" fill="#ee3a44"/>
<line x1="217.30" y1="343.09" x2="217.30" y2="350.51" stroke="#ee3a44" stroke-width="1"/>
<rect x="217.78" y="343.09" width="1.5" height="4.48" fill="#1f73ee"/>
<line x1="218.53" y1="341.60" x2="218.53" y2="349.07" stroke="#1f73ee" stroke-width="1"/>
<rect x="219.00" y="347.57" width="1.5" height="1.49" fill="#1f73ee"/>
<line x1="219.75" y1="346.08" x2="219.75" y2="351.56" stroke="#1f73ee" stroke-width="1"/>
<rect x="220.22" y="349.07" width="1.5" height="1.49" fill="#1f73ee"/>
<line x1="220.97" y1="344.59" x2="220.97" y2="352.08" stroke="#1f73ee" stroke-width="1"/>
<rect x="221.45" y="343.09" width="1.5" height="7.46" fill="#ee3a44"/>
<line x1="222.20" y1="340.11" x2="222.20" y2="352.60" stroke="#ee3a44" stroke-width="1"/>
<rect x="222.67" y="343.09" width="1.5" height="1.49" fill="#1f73ee"/>
<line x1="223.42" y1="341.60" x2="223.42" y2="346.08" stroke="#1f73ee" stroke-width="1"/>
<rect x="223.90" y="343.09" width="1.5" height="1.49" fill="#ee3a44"/>
<line x1="224.65" y1="341.60" x2="224.65" y2="347.57" stroke="#ee3a44" stroke-width="1"/>
<rect x="225.12" y="340.11" width="1.5" height="2.99" fill="#ee3a44"/>
<line x1="225.87" y1="338.01" x2="225.87" y2="344.59" stroke="#ee3a44" stroke-width="1"/>
<rect x="226.34" y="340.11" width="1.5" height="7.46" fill="#1f73ee"/>
<line x1="227.09" y1="338.61" x2="227.09" y2="349.07" stroke="#1f73ee" stroke-width="1"/>
<rect x="227.57" y="344.59" width="1.5" height="2.99" fill="#ee3a44"/>
<line x1="228.32" y1="341.60" x2="228.32" y2="347.57" stroke="#ee3a44" stroke-width="1"/>
<rect x="228.79" y="341.60" width="1.5" height="2.99" fill="#ee3a44"/>
<line x1="229.54" y1="340.11" x2="229.54" y2="344.59" stroke="#ee3a44" stroke-width="1"/>
<rect x="230.02" y="334.14" width="1.5" height="7.46" fill="#ee3a44"/>
<line x1="230.77" y1="331.87" x2="230.77" y2="341.60" stroke="#ee3a44" stroke-width="1"/>
<rect x="231.24" y="332.64" width="1.5" height="1.49" fill="#ee3a44"/>
<line x1="231.99" y1="331.27" x2="231.99" y2="338.61" stroke="#ee3a44" stroke-width="1"/>
<rect x="232.47" y="332.64" width="1.5" height="0.80" fill="#111"/>
<line x1="233.22" y1="330.67" x2="233.22" y2="334.14" stroke="#111" stroke-width="1"/>
<rect x="233.69" y="332.64" width="1.5" height="2.99" fill="#1f73ee"/>
<line x1="234.44" y1="330.08" x2="234.44" y2="336.93" stroke="#1f73ee" stroke-width="1"/>
<rect x="234.91" y="334.14" width="1.5" height="1.49" fill="#ee3a44"/>
<line x1="235.66" y1="332.64" x2="235.66" y2="335.85" stroke="#ee3a44" stroke-width="1"/>
<rect x="236.14" y="334.14" width="1.5" height="0.80" fill="#111"/>
<line x1="236.89" y1="329.66" x2="236.89" y2="334.79" stroke="#111" stroke-width="1"/>
<rect x="237.36" y="332.64" width="1.5" height="1.49" fill="#ee3a44"/>
<line x1="238.11" y1="331.15" x2="238.11" y2="334.14" stroke="#ee3a44" stroke-width="1"/>
<rect x="238.59" y="329.66" width="1.5" height="2.99" fill="#ee3a44"/>
<line x1="239.34" y1="328.16" x2="239.34" y2="332.67" stroke="#ee3a44" stroke-width="1"/>
<rect x="239.81" y="325.18" width="1.5" height="4.48" fill="#ee3a44"/>
<line x1="240.56" y1="322.63" x2="240.56" y2="331.15" stroke="#ee3a44" stroke-width="1"/>
<rect x="241.04" y="323.68" width="1.5" height="1.49" fill="#ee3a44"/>
<line x1="241.79" y1="323.36" x2="241.79" y2="328.16" stroke="#ee3a44" stroke-width="1"/>
<rect x="242.26" y="323.68" width="1.5" height="4.48" fill="#1f73ee"/>
<line x1="243.01" y1="323.68" x2="243.01" y2="329.66" stroke="#1f73ee" stroke-width="1"/>
<rect x="243.48" y="328.16" width="1.5" height="4.48" fill="#1f73ee"/>
<line x1="244.23" y1="327.91" x2="244.23" y2="334.14" stroke="#1f73ee" stroke-width="1"/>
<rect x="244.71" y="332.64" width="1.5" height="2.99" fill="#1f73ee"/>
<line x1="245.46" y1="332.64" x2="245.46" y2="337.12" stroke="#1f73ee" stroke-width="1"/>
<rect x="245.93" y="335.63" width="1.5" height="2.99" fill="#1f73ee"/>
<line x1="246.68" y1="332.64" x2="246.68" y2="339.72" stroke="#1f73ee" stroke-width="1"/>
<rect x="247.16" y="335.63" width="1.5" height="2.99" fill="#ee3a44"/>
<rect x="248.38" y="332.64" width="1.5" height="2.99" fill="#ee3a44"/>
<line x1="249.13" y1="329.60" x2="249.13" y2="338.61" stroke="#ee3a44" stroke-width="1"/>
<rect x="249.61" y="332.64" width="1.5" height="0.80" fill="#111"/>
<line x1="250.36" y1="332.64" x2="250.36" y2="334.14" stroke="#111" stroke-width="1"/>
<rect x="250.83" y="332.64" width="1.5" height="2.99" fill="#1f73ee"/>
<line x1="251.58" y1="331.13" x2="251.58" y2="338.61" stroke="#1f73ee" stroke-width="1"/>
<rect x="252.05" y="335.63" width="1.5" height="4.48" fill="#1f73ee"/>
<line x1="252.80" y1="331.49" x2="252.80" y2="343.43" stroke="#1f73ee" stroke-width="1"/>
<rect x="253.28" y="337.12" width="1.5" height="2.99" fill="#ee3a44"/>
<line x1="254.03" y1="337.12" x2="254.03" y2="341.95" stroke="#ee3a44" stroke-width="1"/>
<rect x="254.50" y="337.12" width="1.5" height="2.99" fill="#1f73ee"/>
<line x1="255.25" y1="334.14" x2="255.25" y2="340.11" stroke="#1f73ee" stroke-width="1"/>
<rect x="255.73" y="332.64" width="1.5" height="7.46" fill="#ee3a44"/>
<line x1="256.48" y1="331.15" x2="256.48" y2="340.11" stroke="#ee3a44" stroke-width="1"/>
<rect x="256.95" y="329.66" width="1.5" height="2.99" fill="#ee3a44"/>
<line x1="257.70" y1="328.10" x2="257.70" y2="332.64" stroke="#ee3a44" stroke-width="1"/>
<rect x="258.17" y="329.66" width="1.5" height="0.80" fill="#111"/>
<line x1="258.92" y1="328.16" x2="258.92" y2="332.64" stroke="#111" stroke-width="1"/>
<rect x="259.40" y="329.66" width="1.5" height="1.49" fill="#1f73ee"/>
<line x1="260.15" y1="326.47" x2="260.15" y2="334.14" stroke="#1f73ee" stroke-width="1"/>
<rect x="260.62" y="331.15" width="1.5" height="2.99" fill="#1f73ee"/>
<line x1="261.37" y1="328.16" x2="261.37" y2="334.44" stroke="#1f73ee" stroke-width="1"/>
<rect x="261.85" y="332.64" width="1.5" height="1.49" fill="#ee3a44"/>
<line x1="262.60" y1="328.16" x2="262.60" y2="334.14" stroke="#ee3a44" stroke-width="1"/>
<rect x="263.07" y="331.15" width="1.5" height="1.49" fill="#ee3a44"/>
<line x1="263.82" y1="329.66" x2="263.82" y2="333.00" stroke="#ee3a44" stroke-width="1"/>
<rect x="264.30" y="328.16" width="1.5" height="2.99" fill="#ee3a44"/>
<line x1="265.05" y1="326.67" x2="265.05" y2="331.15" stroke="#ee3a44" stroke-width="1"/>
<rect x="265.52" y="325.18" width="1.5" height="2.99" fill="#ee3a44"/>
<line x1="266.27" y1="323.87" x2="266.27" y2="331.15" stroke="#ee3a44" stroke-width="1"/>
<rect x="266.74" y="325.18" width="1.5" height="1.49" fill="#1f73ee"/>
<line x1="267.49" y1="323.68" x2="267.49" y2="328.16" stroke="#1f73ee" stroke-width="1"/>
<rect x="267.97" y="326.67" width="1.5" height="2.99" fill="#1f73ee"/>
<line x1="268.72" y1="326.67" x2="268.72" y2="332.64" stroke="#1f73ee" stroke-width="1"/>
<rect x="269.19" y="328.16" width="1.5" height="1.49" fill="#ee3a44"/>
<line x1="269.94" y1="326.67" x2="269.94" y2="329.66" stroke="#ee3a44" stroke-width="1"/>
<rect x="270.42" y="328.16" width="1.5" height="2.99" fill="#1f73ee"/>
<line x1="271.17" y1="325.18" x2="271.17" y2="332.34" stroke="#1f73ee" stroke-width="1"/>
<rect x="271.64" y="331.15" width="1.5" height="0.80" fill="#111"/>
<line x1="272.39" y1="329.66" x2="272.39" y2="332.12" stroke="#111" stroke-width="1"/>
<rect x="272.87" y="331.15" width="1.5" height="0.80" fill="#111"/>
<line x1="273.62" y1="329.66" x2="273.62" y2="331.58" stroke="#111" stroke-width="1"/>
<rect x="274.09" y="325.18" width="1.5" height="5.97" fill="#ee3a44"/>
<line x1="274.84" y1="323.69" x2="274.84" y2="331.15" stroke="#ee3a44" stroke-width="1"/>
<rect x="275.31" y="323.68" width="1.5" height="1.49" fill="#ee3a44"/>
<line x1="276.06" y1="323.06" x2="276.06" y2="326.67" stroke="#ee3a44" stroke-width="1"/>
<rect x="276.54" y="323.68" width="1.5" height="1.49" fill="#1f73ee"/>
<line x1="277.29" y1="322.42" x2="277.29" y2="326.67" stroke="#1f73ee" stroke-width="1"/>
<rect x="277.76" y="325.18" width="1.5" height="0.80" fill="#111"/>
<line x1="278.51" y1="325.18" x2="278.51" y2="328.16" stroke="#111" stroke-width="1"/>
<rect x="278.99" y="325.18" width="1.5" height="2.99" fill="#1f73ee"/>
<line x1="279.74" y1="323.68" x2="279.74" y2="329.21" stroke="#1f73ee" stroke-width="1"/>
<rect x="280.21" y="326.67" width="1.5" height="1.49" fill="#ee3a44"/>
<line x1="280.96" y1="325.18" x2="280.96" y2="329.04" stroke="#ee3a44" stroke-width="1"/>
<rect x="281.44" y="323.68" width="1.5" height="2.99" fill="#ee3a44"/>
<line x1="282.19" y1="322.19" x2="282.19" y2="328.16" stroke="#ee3a44" stroke-width="1"/>
<rect x="282.66" y="322.19" width="1.5" height="1.49" fill="#ee3a44"/>
<line x1="283.41" y1="320.83" x2="283.41" y2="326.67" stroke="#ee3a44" stroke-width="1"/>
<rect x="283.88" y="322.19" width="1.5" height="0.80" fill="#111"/>
<line x1="284.63" y1="320.58" x2="284.63" y2="323.68" stroke="#111" stroke-width="1"/>
<rect x="285.11" y="322.19" width="1.5" height="4.48" fill="#1f73ee"/>
<line x1="285.86" y1="320.70" x2="285.86" y2="328.16" stroke="#1f73ee" stroke-width="1"/>
<rect x="286.33" y="326.67" width="1.5" height="0.80" fill="#111"/>
<line x1="287.08" y1="325.18" x2="287.08" y2="326.67" stroke="#111" stroke-width="1"/>
<rect x="287.56" y="326.67" width="1.5" height="0.80" fill="#111"/>
<line x1="288.31" y1="322.19" x2="288.31" y2="327.67" stroke="#111" stroke-width="1"/>
<rect x="288.78" y="323.68" width="1.5" height="2.99" fill="#ee3a44"/>
<line x1="289.53" y1="320.29" x2="289.53" y2="327.37" stroke="#ee3a44" stroke-width="1"/>
<rect x="290.00" y="320.70" width="1.5" height="2.99" fill="#ee3a44"/>
<line x1="290.75" y1="320.23" x2="290.75" y2="325.18" stroke="#ee3a44" stroke-width="1"/>
<rect x="291.23" y="320.70" width="1.5" height="0.80" fill="#111"/>
<line x1="291.98" y1="319.88" x2="291.98" y2="322.19" stroke="#111" stroke-width="1"/>
<rect x="292.45" y="320.70" width="1.5" height="0.80" fill="#111"/>
<line x1="293.20" y1="319.21" x2="293.20" y2="320.70" stroke="#111" stroke-width="1"/>
<rect x="293.68" y="320.70" width="1.5" height="1.49" fill="#1f73ee"/>
<line x1="294.43" y1="319.21" x2="294.43" y2="322.19" stroke="#1f73ee" stroke-width="1"/>
<rect x="294.90" y="322.19" width="1.5" height="1.49" fill="#1f73ee"/>
<line x1="295.65" y1="320.70" x2="295.65" y2="323.68" stroke="#1f73ee" stroke-width="1"/>
<rect x="296.13" y="323.68" width="1.5" height="0.80" fill="#111"/>
<line x1="296.88" y1="323.68" x2="296.88" y2="324.80" stroke="#111" stroke-width="1"/>
<rect x="297.35" y="320.70" width="1.5" height="2.99" fill="#ee3a44"/>
<line x1="298.10" y1="319.21" x2="298.10" y2="324.34" stroke="#ee3a44" stroke-width="1"/>
<rect x="298.57" y="316.22" width="1.5" height="4.48" fill="#ee3a44"/>
<line x1="299.32" y1="315.80" x2="299.32" y2="323.68" stroke="#ee3a44" stroke-width="1"/>
<rect x="299.80" y="316.22" width="1.5" height="0.80" fill="#111"/>
<line x1="300.55" y1="315.89" x2="300.55" y2="317.71" stroke="#111" stroke-width="1"/>
<rect x="301.02" y="316.22" width="1.5" height="2.99" fill="#1f73ee"/>
<line x1="301.77" y1="316.12" x2="301.77" y2="319.21" stroke="#1f73ee" stroke-width="1"/>
<rect x="302.25" y="317.71" width="1.5" height="1.49" fill="#ee3a44"/>
<line x1="303.00" y1="316.34" x2="303.00" y2="319.21" stroke="#ee3a44" stroke-width="1"/>
<rect x="303.47" y="317.71" width="1.5" height="4.48" fill="#1f73ee"/>
<line x1="304.22" y1="316.57" x2="304.22" y2="323.80" stroke="#1f73ee" stroke-width="1"/>
<rect x="304.70" y="320.70" width="1.5" height="1.49" fill="#ee3a44"/>
<line x1="305.45" y1="319.21" x2="305.45" y2="323.22" stroke="#ee3a44" stroke-width="1"/>
<rect x="305.92" y="320.70" width="1.5" height="1.49" fill="#1f73ee"/>
<line x1="306.67" y1="316.22" x2="306.67" y2="322.55" stroke="#1f73ee" stroke-width="1"/>
<rect x="307.14" y="317.71" width="1.5" height="4.48" fill="#ee3a44"/>
<line x1="307.89" y1="315.03" x2="307.89" y2="322.19" stroke="#ee3a44" stroke-width="1"/>
<rect x="308.37" y="316.22" width="1.5" height="1.49" fill="#ee3a44"/>
<line x1="309.12" y1="314.73" x2="309.12" y2="319.21" stroke="#ee3a44" stroke-width="1"/>
<rect x="309.59" y="316.22" width="1.5" height="1.49" fill="#1f73ee"/>
<line x1="310.34" y1="313.89" x2="310.34" y2="317.71" stroke="#1f73ee" stroke-width="1"/>
<rect x="310.82" y="316.22" width="1.5" height="1.49" fill="#ee3a44"/>
<line x1="311.57" y1="314.73" x2="311.57" y2="317.71" stroke="#ee3a44" stroke-width="1"/>
<rect x="312.04" y="316.22" width="1.5" height="2.99" fill="#1f73ee"/>
<line x1="312.79" y1="314.73" x2="312.79" y2="320.01" stroke="#1f73ee" stroke-width="1"/>
<rect x="313.26" y="319.21" width="1.5" height="0.80" fill="#111"/>
<rect x="314.49" y="319.21" width="1.5" height="0.80" fill="#111"/>
<rect x="315.71" y="314.73" width="1.5" height="4.48" fill="#ee3a44"/>
<line x1="316.46" y1="313.23" x2="316.46" y2="319.96" stroke="#ee3a44" stroke-width="1"/>
<rect x="316.94" y="314.73" width="1.5" height="0.80" fill="#111"/>
<line x1="317.69" y1="313.43" x2="317.69" y2="316.22" stroke="#111" stroke-width="1"/>
<rect x="318.16" y="311.74" width="1.5" height="2.99" fill="#ee3a44"/>
<line x1="318.91" y1="311.35" x2="318.91" y2="319.12" stroke="#ee3a44" stroke-width="1"/>
<rect x="319.39" y="310.25" width="1.5" height="1.49" fill="#ee3a44"/>
<line x1="320.14" y1="310.25" x2="320.14" y2="316.22" stroke="#ee3a44" stroke-width="1"/>
<rect x="320.61" y="310.25" width="1.5" height="2.99" fill="#1f73ee"/>
<line x1="321.36" y1="308.75" x2="321.36" y2="314.73" stroke="#1f73ee" stroke-width="1"/>
<rect x="321.83" y="313.23" width="1.5" height="0.80" fill="#111"/>
<line x1="322.58" y1="311.74" x2="322.58" y2="313.93" stroke="#111" stroke-width="1"/>
<rect x="323.06" y="305.77" width="1.5" height="7.46" fill="#ee3a44"/>
<line x1="323.81" y1="302.78" x2="323.81" y2="313.23" stroke="#ee3a44" stroke-width="1"/>
<rect x="324.28" y="302.78" width="1.5" height="2.99" fill="#ee3a44"/>
<line x1="325.03" y1="301.29" x2="325.03" y2="307.26" stroke="#ee3a44" stroke-width="1"/>
<rect x="325.51" y="298.30" width="1.5" height="4.48" fill="#ee3a44"/>
<line x1="326.26" y1="296.88" x2="326.26" y2="302.78" stroke="#ee3a44" stroke-width="1"/>
<rect x="326.73" y="298.30" width="1.5" height="0.80" fill="#111"/>
<rect x="327.96" y="298.30" width="1.5" height="1.49" fill="#1f73ee"/>
<line x1="328.71" y1="296.81" x2="328.71" y2="301.29" stroke="#1f73ee" stroke-width="1"/>
<rect x="329.18" y="299.80" width="1.5" height="1.49" fill="#1f73ee"/>
<line x1="329.93" y1="298.30" x2="329.93" y2="302.78" stroke="#1f73ee" stroke-width="1"/>
<rect x="330.40" y="301.29" width="1.5" height="2.99" fill="#1f73ee"/>
<line x1="331.15" y1="298.30" x2="331.15" y2="304.81" stroke="#1f73ee" stroke-width="1"/>
<rect x="331.63" y="304.28" width="1.5" height="1.49" fill="#1f73ee"/>
<line x1="332.38" y1="302.78" x2="332.38" y2="306.57" stroke="#1f73ee" stroke-width="1"/>
<rect x="332.85" y="296.81" width="1.5" height="8.96" fill="#ee3a44"/>
<line x1="333.60" y1="295.96" x2="333.60" y2="307.60" stroke="#ee3a44" stroke-width="1"/>
<rect x="334.08" y="296.81" width="1.5" height="1.49" fill="#1f73ee"/>
<line x1="334.83" y1="296.81" x2="334.83" y2="301.29" stroke="#1f73ee" stroke-width="1"/>
<rect x="335.30" y="298.30" width="1.5" height="4.48" fill="#1f73ee"/>
<line x1="336.05" y1="297.71" x2="336.05" y2="304.28" stroke="#1f73ee" stroke-width="1"/>
<rect x="336.53" y="302.78" width="1.5" height="2.99" fill="#1f73ee"/>
<line x1="337.28" y1="301.29" x2="337.28" y2="307.26" stroke="#1f73ee" stroke-width="1"/>
<rect x="337.75" y="305.77" width="1.5" height="0.80" fill="#111"/>
<line x1="338.50" y1="301.29" x2="338.50" y2="305.77" stroke="#111" stroke-width="1"/>
<rect x="338.97" y="299.80" width="1.5" height="5.97" fill="#ee3a44"/>
<line x1="339.72" y1="298.30" x2="339.72" y2="305.77" stroke="#ee3a44" stroke-width="1"/>
<rect x="340.20" y="298.30" width="1.5" height="1.49" fill="#ee3a44"/>
<line x1="340.95" y1="298.30" x2="340.95" y2="304.28" stroke="#ee3a44" stroke-width="1"/>
<rect x="341.42" y="296.81" width="1.5" height="1.49" fill="#ee3a44"/>
<line x1="342.17" y1="295.43" x2="342.17" y2="298.30" stroke="#ee3a44" stroke-width="1"/>
<rect x="342.65" y="296.81" width="1.5" height="0.80" fill="#111"/>
<line x1="343.40" y1="295.32" x2="343.40" y2="299.80" stroke="#111" stroke-width="1"/>
<rect x="343.87" y="295.32" width="1.5" height="1.49" fill="#ee3a44"/>
<line x1="344.62" y1="294.59" x2="344.62" y2="298.30" stroke="#ee3a44" stroke-width="1"/>
<rect x="345.09" y="295.32" width="1.5" height="4.48" fill="#1f73ee"/>
<line x1="345.84" y1="294.51" x2="345.84" y2="301.29" stroke="#1f73ee" stroke-width="1"/>
<rect x="346.32" y="299.80" width="1.5" height="1.49" fill="#1f73ee"/>
<line x1="347.07" y1="299.80" x2="347.07" y2="302.78" stroke="#1f73ee" stroke-width="1"/>
<rect x="347.54" y="301.29" width="1.5" height="1.49" fill="#1f73ee"/>
<line x1="348.29" y1="301.29" x2="348.29" y2="304.49" stroke="#1f73ee" stroke-width="1"/>
<rect x="348.77" y="298.30" width="1.5" height="4.48" fill="#ee3a44"/>
<line x1="349.52" y1="296.68" x2="349.52" y2="304.28" stroke="#ee3a44" stroke-width="1"/>
<rect x="349.99" y="298.30" width="1.5" height="0.80" fill="#111"/>
<line x1="350.74" y1="298.30" x2="350.74" y2="299.80" stroke="#111" stroke-width="1"/>
<rect x="351.22" y="298.30" width="1.5" height="5.97" fill="#1f73ee"/>
<line x1="351.97" y1="298.18" x2="351.97" y2="304.28" stroke="#1f73ee" stroke-width="1"/>
<rect x="352.44" y="302.78" width="1.5" height="1.49" fill="#ee3a44"/>
<line x1="353.19" y1="301.29" x2="353.19" y2="307.46" stroke="#ee3a44" stroke-width="1"/>
<rect x="353.66" y="302.78" width="1.5" height="2.99" fill="#1f73ee"/>
<rect x="354.89" y="301.29" width="1.5" height="4.48" fill="#ee3a44"/>
<line x1="355.64" y1="301.29" x2="355.64" y2="307.47" stroke="#ee3a44" stroke-width="1"/>
<rect x="356.11" y="301.29" width="1.5" height="1.49" fill="#1f73ee"/>
<line x1="356.86" y1="301.29" x2="356.86" y2="305.77" stroke="#1f73ee" stroke-width="1"/>
<rect x="357.34" y="302.78" width="1.5" height="1.49" fill="#1f73ee"/>
<line x1="358.09" y1="302.28" x2="358.09" y2="305.77" stroke="#1f73ee" stroke-width="1"/>
<rect x="358.56" y="304.28" width="1.5" height="5.97" fill="#1f73ee"/>
<line x1="359.31" y1="304.28" x2="359.31" y2="311.74" stroke="#1f73ee" stroke-width="1"/>
<rect x="359.79" y="310.25" width="1.5" height="4.48" fill="#1f73ee"/>
<line x1="360.54" y1="308.75" x2="360.54" y2="316.13" stroke="#1f73ee" stroke-width="1"/>
<rect x="361.01" y="308.75" width="1.5" height="5.97" fill="#ee3a44"/>
<rect x="362.23" y="307.26" width="1.5" height="1.49" fill="#ee3a44"/>
<line x1="362.98" y1="307.26" x2="362.98" y2="311.74" stroke="#ee3a44" stroke-width="1"/>
<rect x="363.46" y="304.28" width="1.5" height="2.99" fill="#ee3a44"/>
<line x1="364.21" y1="302.63" x2="364.21" y2="308.75" stroke="#ee3a44" stroke-width="1"/>
<rect x="364.68" y="304.28" width="1.5" height="1.49" fill="#1f73ee"/>
<line x1="365.43" y1="303.17" x2="365.43" y2="310.25" stroke="#1f73ee" stroke-width="1"/>
<rect x="365.91" y="304.28" width="1.5" height="1.49" fill="#ee3a44"/>
<line x1="366.66" y1="303.71" x2="366.66" y2="307.26" stroke="#ee3a44" stroke-width="1"/>
<rect x="367.13" y="304.28" width="1.5" height="5.97" fill="#1f73ee"/>
<line x1="367.88" y1="304.25" x2="367.88" y2="311.74" stroke="#1f73ee" stroke-width="1"/>
<rect x="368.36" y="310.25" width="1.5" height="0.80" fill="#111"/>
<line x1="369.11" y1="308.75" x2="369.11" y2="311.35" stroke="#111" stroke-width="1"/>
<rect x="369.58" y="310.25" width="1.5" height="0.80" fill="#111"/>
<line x1="370.33" y1="307.26" x2="370.33" y2="310.74" stroke="#111" stroke-width="1"/>
<rect x="370.80" y="305.77" width="1.5" height="4.48" fill="#ee3a44"/>
<rect x="372.03" y="304.28" width="1.5" height="1.49" fill="#ee3a44"/>
<line x1="372.78" y1="302.13" x2="372.78" y2="309.31" stroke="#ee3a44" stroke-width="1"/>
<rect x="373.25" y="302.78" width="1.5" height="1.49" fill="#ee3a44"/>
<line x1="374.00" y1="301.29" x2="374.00" y2="307.26" stroke="#ee3a44" stroke-width="1"/>
<rect x="374.48" y="302.78" width="1.5" height="0.80" fill="#111"/>
<line x1="375.23" y1="299.80" x2="375.23" y2="304.28" stroke="#111" stroke-width="1"/>
<rect x="375.70" y="302.78" width="1.5" height="0.80" fill="#111"/>
<line x1="376.45" y1="301.29" x2="376.45" y2="304.28" stroke="#111" stroke-width="1"/>
<rect x="376.92" y="301.29" width="1.5" height="1.49" fill="#ee3a44"/>
<line x1="377.67" y1="299.80" x2="377.67" y2="303.99" stroke="#ee3a44" stroke-width="1"/>
<rect x="378.15" y="298.30" width="1.5" height="2.99" fill="#ee3a44"/>
<line x1="378.90" y1="295.81" x2="378.90" y2="302.61" stroke="#ee3a44" stroke-width="1"/>
<rect x="379.37" y="296.81" width="1.5" height="1.49" fill="#ee3a44"/>
<rect x="380.60" y="296.81" width="1.5" height="0.80" fill="#111"/>
<line x1="381.35" y1="295.32" x2="381.35" y2="298.30" stroke="#111" stroke-width="1"/>
<rect x="381.82" y="295.32" width="1.5" height="1.49" fill="#ee3a44"/>
<rect x="383.05" y="295.32" width="1.5" height="1.49" fill="#1f73ee"/>
<line x1="383.80" y1="295.32" x2="383.80" y2="299.45" stroke="#1f73ee" stroke-width="1"/>
<rect x="384.27" y="296.81" width="1.5" height="0.80" fill="#111"/>
<line x1="385.02" y1="292.33" x2="385.02" y2="298.80" stroke="#111" stroke-width="1"/>
<rect x="385.49" y="296.81" width="1.5" height="0.80" fill="#111"/>
<line x1="386.24" y1="293.82" x2="386.24" y2="298.14" stroke="#111" stroke-width="1"/>
<rect x="386.72" y="296.81" width="1.5" height="0.80" fill="#111"/>
<line x1="387.47" y1="293.82" x2="387.47" y2="297.29" stroke="#111" stroke-width="1"/>
<rect x="387.94" y="290.84" width="1.5" height="5.97" fill="#ee3a44"/>
<line x1="388.69" y1="290.49" x2="388.69" y2="296.81" stroke="#ee3a44" stroke-width="1"/>
<rect x="389.17" y="290.84" width="1.5" height="0.80" fill="#111"/>
<line x1="389.92" y1="290.04" x2="389.92" y2="292.33" stroke="#111" stroke-width="1"/>
<rect x="390.39" y="290.84" width="1.5" height="1.49" fill="#1f73ee"/>
<line x1="391.14" y1="289.60" x2="391.14" y2="293.82" stroke="#1f73ee" stroke-width="1"/>
<rect x="391.62" y="290.84" width="1.5" height="1.49" fill="#ee3a44"/>
<line x1="392.37" y1="289.35" x2="392.37" y2="293.68" stroke="#ee3a44" stroke-width="1"/>
<rect x="392.84" y="290.84" width="1.5" height="1.49" fill="#1f73ee"/>
<line x1="393.59" y1="289.35" x2="393.59" y2="292.76" stroke="#1f73ee" stroke-width="1"/>
<rect x="394.06" y="289.35" width="1.5" height="2.99" fill="#ee3a44"/>
<line x1="394.81" y1="287.85" x2="394.81" y2="292.33" stroke="#ee3a44" stroke-width="1"/>
<rect x="395.29" y="289.35" width="1.5" height="0.80" fill="#111"/>
<line x1="396.04" y1="286.36" x2="396.04" y2="290.14" stroke="#111" stroke-width="1"/>
<rect x="396.51" y="281.88" width="1.5" height="7.47" fill="#ee3a44"/>
<line x1="397.26" y1="280.39" x2="397.26" y2="289.35" stroke="#ee3a44" stroke-width="1"/>
<rect x="397.74" y="280.39" width="1.5" height="1.49" fill="#ee3a44"/>
<line x1="398.49" y1="278.89" x2="398.49" y2="284.87" stroke="#ee3a44" stroke-width="1"/>
<rect x="398.96" y="278.89" width="1.5" height="1.49" fill="#ee3a44"/>
<line x1="399.71" y1="277.40" x2="399.71" y2="280.39" stroke="#ee3a44" stroke-width="1"/>
<rect x="400.19" y="278.89" width="1.5" height="2.99" fill="#1f73ee"/>
<line x1="400.94" y1="278.89" x2="400.94" y2="282.31" stroke="#1f73ee" stroke-width="1"/>
<rect x="401.41" y="280.39" width="1.5" height="1.49" fill="#ee3a44"/>
<line x1="402.16" y1="277.40" x2="402.16" y2="281.88" stroke="#ee3a44" stroke-width="1"/>
<rect x="402.63" y="274.42" width="1.5" height="5.97" fill="#ee3a44"/>
<rect x="403.86" y="271.43" width="1.5" height="2.99" fill="#ee3a44"/>
<line x1="404.61" y1="270.66" x2="404.61" y2="275.91" stroke="#ee3a44" stroke-width="1"/>
<rect x="405.08" y="271.43" width="1.5" height="1.49" fill="#1f73ee"/>
<line x1="405.83" y1="269.94" x2="405.83" y2="275.91" stroke="#1f73ee" stroke-width="1"/>
<rect x="406.31" y="272.92" width="1.5" height="2.99" fill="#1f73ee"/>
<line x1="407.06" y1="271.43" x2="407.06" y2="277.40" stroke="#1f73ee" stroke-width="1"/>
<rect x="407.53" y="275.91" width="1.5" height="2.99" fill="#1f73ee"/>
<line x1="408.28" y1="275.91" x2="408.28" y2="279.30" stroke="#1f73ee" stroke-width="1"/>
<rect x="408.75" y="277.40" width="1.5" height="1.49" fill="#ee3a44"/>
<line x1="409.50" y1="272.92" x2="409.50" y2="279.30" stroke="#ee3a44" stroke-width="1"/>
<rect x="409.98" y="274.42" width="1.5" height="2.99" fill="#ee3a44"/>
<line x1="410.73" y1="272.92" x2="410.73" y2="279.30" stroke="#ee3a44" stroke-width="1"/>
<rect x="411.20" y="268.44" width="1.5" height="5.97" fill="#ee3a44"/>
<line x1="411.95" y1="266.86" x2="411.95" y2="277.40" stroke="#ee3a44" stroke-width="1"/>
<rect x="412.43" y="268.44" width="1.5" height="0.80" fill="#111"/>
<line x1="413.18" y1="266.96" x2="413.18" y2="269.94" stroke="#111" stroke-width="1"/>
<rect x="413.65" y="268.44" width="1.5" height="2.99" fill="#1f73ee"/>
<line x1="414.40" y1="267.06" x2="414.40" y2="271.43" stroke="#1f73ee" stroke-width="1"/>
<rect x="414.88" y="271.43" width="1.5" height="1.49" fill="#1f73ee"/>
<line x1="415.63" y1="271.43" x2="415.63" y2="274.42" stroke="#1f73ee" stroke-width="1"/>
<rect x="416.10" y="271.43" width="1.5" height="1.49" fill="#ee3a44"/>
<line x1="416.85" y1="269.94" x2="416.85" y2="273.15" stroke="#ee3a44" stroke-width="1"/>
<rect x="417.32" y="269.94" width="1.5" height="1.49" fill="#ee3a44"/>
<line x1="418.07" y1="266.95" x2="418.07" y2="271.93" stroke="#ee3a44" stroke-width="1"/>
<rect x="418.55" y="262.47" width="1.5" height="7.46" fill="#ee3a44"/>
<line x1="419.30" y1="260.98" x2="419.30" y2="269.94" stroke="#ee3a44" stroke-width="1"/>
<rect x="419.77" y="259.49" width="1.5" height="2.99" fill="#ee3a44"/>
<line x1="420.52" y1="258.30" x2="420.52" y2="265.46" stroke="#ee3a44" stroke-width="1"/>
<rect x="421.00" y="259.49" width="1.5" height="1.49" fill="#1f73ee"/>
<line x1="421.75" y1="257.10" x2="421.75" y2="263.96" stroke="#1f73ee" stroke-width="1"/>
<rect x="422.22" y="260.98" width="1.5" height="0.80" fill="#111"/>
<line x1="422.97" y1="259.49" x2="422.97" y2="265.07" stroke="#111" stroke-width="1"/>
<rect x="423.45" y="260.98" width="1.5" height="1.49" fill="#1f73ee"/>
<line x1="424.20" y1="257.99" x2="424.20" y2="263.11" stroke="#1f73ee" stroke-width="1"/>
<rect x="424.67" y="262.47" width="1.5" height="1.49" fill="#1f73ee"/>
<line x1="425.42" y1="259.49" x2="425.42" y2="264.56" stroke="#1f73ee" stroke-width="1"/>
<rect x="425.89" y="259.49" width="1.5" height="4.48" fill="#ee3a44"/>
<line x1="426.64" y1="257.99" x2="426.64" y2="263.96" stroke="#ee3a44" stroke-width="1"/>
<rect x="427.12" y="257.99" width="1.5" height="1.49" fill="#ee3a44"/>
<line x1="427.87" y1="256.17" x2="427.87" y2="259.49" stroke="#ee3a44" stroke-width="1"/>
<rect x="428.34" y="257.99" width="1.5" height="0.80" fill="#111"/>
<line x1="429.09" y1="256.88" x2="429.09" y2="257.99" stroke="#111" stroke-width="1"/>
<rect x="429.57" y="257.99" width="1.5" height="2.99" fill="#1f73ee"/>
<line x1="430.32" y1="257.99" x2="430.32" y2="263.96" stroke="#1f73ee" stroke-width="1"/>
<rect x="430.79" y="260.98" width="1.5" height="4.48" fill="#1f73ee"/>
<line x1="431.54" y1="259.26" x2="431.54" y2="268.44" stroke="#1f73ee" stroke-width="1"/>
<rect x="432.01" y="265.46" width="1.5" height="7.46" fill="#1f73ee"/>
<line x1="432.76" y1="262.47" x2="432.76" y2="274.34" stroke="#1f73ee" stroke-width="1"/>
<rect x="433.24" y="271.43" width="1.5" height="1.49" fill="#ee3a44"/>
<line x1="433.99" y1="269.94" x2="433.99" y2="273.11" stroke="#ee3a44" stroke-width="1"/>
<rect x="434.46" y="268.44" width="1.5" height="2.99" fill="#ee3a44"/>
<line x1="435.21" y1="265.46" x2="435.21" y2="271.89" stroke="#ee3a44" stroke-width="1"/>
<rect x="435.69" y="265.46" width="1.5" height="2.99" fill="#ee3a44"/>
<line x1="436.44" y1="263.96" x2="436.44" y2="271.43" stroke="#ee3a44" stroke-width="1"/>
<rect x="436.91" y="265.46" width="1.5" height="0.80" fill="#111"/>
<line x1="437.66" y1="265.46" x2="437.66" y2="268.44" stroke="#111" stroke-width="1"/>
<rect x="438.14" y="265.46" width="1.5" height="4.48" fill="#1f73ee"/>
<line x1="438.89" y1="264.47" x2="438.89" y2="271.43" stroke="#1f73ee" stroke-width="1"/>
<rect x="439.36" y="269.94" width="1.5" height="1.49" fill="#1f73ee"/>
<line x1="440.11" y1="269.94" x2="440.11" y2="272.86" stroke="#1f73ee" stroke-width="1"/>
<rect x="440.58" y="269.94" width="1.5" height="1.49" fill="#ee3a44"/>
<line x1="441.33" y1="268.44" x2="441.33" y2="271.43" stroke="#ee3a44" stroke-width="1"/>
<rect x="441.81" y="259.49" width="1.5" height="10.45" fill="#ee3a44"/>
<line x1="442.56" y1="256.50" x2="442.56" y2="269.94" stroke="#ee3a44" stroke-width="1"/>
<rect x="443.03" y="256.50" width="1.5" height="2.99" fill="#ee3a44"/>
<line x1="443.78" y1="255.01" x2="443.78" y2="260.98" stroke="#ee3a44" stroke-width="1"/>
<rect x="444.26" y="255.01" width="1.5" height="1.49" fill="#ee3a44"/>
<line x1="445.01" y1="254.70" x2="445.01" y2="256.50" stroke="#ee3a44" stroke-width="1"/>
<rect x="445.48" y="255.01" width="1.5" height="4.48" fill="#1f73ee"/>
<line x1="446.23" y1="254.70" x2="446.23" y2="263.96" stroke="#1f73ee" stroke-width="1"/>
<rect x="446.71" y="259.49" width="1.5" height="4.48" fill="#1f73ee"/>
<line x1="447.46" y1="257.99" x2="447.46" y2="265.82" stroke="#1f73ee" stroke-width="1"/>
<rect x="447.93" y="263.96" width="1.5" height="0.80" fill="#111"/>
<line x1="448.68" y1="260.98" x2="448.68" y2="265.09" stroke="#111" stroke-width="1"/>
<rect x="449.15" y="259.49" width="1.5" height="4.48" fill="#ee3a44"/>
<line x1="449.90" y1="255.01" x2="449.90" y2="264.36" stroke="#ee3a44" stroke-width="1"/>
<rect x="450.38" y="257.99" width="1.5" height="1.49" fill="#ee3a44"/>
<line x1="451.13" y1="255.01" x2="451.13" y2="260.98" stroke="#ee3a44" stroke-width="1"/>
<rect x="451.60" y="255.01" width="1.5" height="2.99" fill="#ee3a44"/>
<line x1="452.35" y1="253.55" x2="452.35" y2="260.98" stroke="#ee3a44" stroke-width="1"/>
<rect x="452.83" y="255.01" width="1.5" height="8.96" fill="#1f73ee"/>
<line x1="453.58" y1="253.51" x2="453.58" y2="265.73" stroke="#1f73ee" stroke-width="1"/>
<rect x="454.05" y="263.96" width="1.5" height="0.80" fill="#111"/>
<line x1="454.80" y1="259.49" x2="454.80" y2="265.46" stroke="#111" stroke-width="1"/>
<rect x="455.28" y="260.98" width="1.5" height="2.99" fill="#ee3a44"/>
<line x1="456.03" y1="259.49" x2="456.03" y2="264.18" stroke="#ee3a44" stroke-width="1"/>
<rect x="456.50" y="255.01" width="1.5" height="5.97" fill="#ee3a44"/>
<rect x="457.72" y="255.01" width="1.5" height="1.49" fill="#1f73ee"/>
<line x1="458.47" y1="252.02" x2="458.47" y2="256.50" stroke="#1f73ee" stroke-width="1"/>
<rect x="458.95" y="255.01" width="1.5" height="1.49" fill="#ee3a44"/>
<line x1="459.70" y1="253.51" x2="459.70" y2="259.06" stroke="#ee3a44" stroke-width="1"/>
<rect x="460.17" y="252.02" width="1.5" height="2.99" fill="#ee3a44"/>
<rect x="461.40" y="252.02" width="1.5" height="4.48" fill="#1f73ee"/>
<line x1="462.15" y1="251.72" x2="462.15" y2="257.99" stroke="#1f73ee" stroke-width="1"/>
<rect x="462.62" y="256.50" width="1.5" height="4.48" fill="#1f73ee"/>
<line x1="463.37" y1="253.51" x2="463.37" y2="260.98" stroke="#1f73ee" stroke-width="1"/>
<rect x="463.84" y="257.99" width="1.5" height="2.99" fill="#ee3a44"/>
<line x1="464.59" y1="253.51" x2="464.59" y2="260.98" stroke="#ee3a44" stroke-width="1"/>
<rect x="465.07" y="255.01" width="1.5" height="2.99" fill="#ee3a44"/>
<rect x="466.29" y="250.53" width="1.5" height="4.48" fill="#ee3a44"/>
<line x1="467.04" y1="248.63" x2="467.04" y2="257.21" stroke="#ee3a44" stroke-width="1"/>
<rect x="467.52" y="250.53" width="1.5" height="0.80" fill="#111"/>
<line x1="468.27" y1="248.02" x2="468.27" y2="252.02" stroke="#111" stroke-width="1"/>
<rect x="468.74" y="250.53" width="1.5" height="1.49" fill="#1f73ee"/>
<line x1="469.49" y1="249.03" x2="469.49" y2="252.02" stroke="#1f73ee" stroke-width="1"/>
<rect x="469.97" y="250.53" width="1.5" height="1.49" fill="#ee3a44"/>
<line x1="470.72" y1="249.03" x2="470.72" y2="253.51" stroke="#ee3a44" stroke-width="1"/>
<rect x="471.19" y="250.53" width="1.5" height="0.80" fill="#111"/>
<line x1="471.94" y1="249.03" x2="471.94" y2="252.02" stroke="#111" stroke-width="1"/>
<rect x="472.41" y="250.53" width="1.5" height="0.80" fill="#111"/>
<line x1="473.16" y1="249.03" x2="473.16" y2="251.79" stroke="#111" stroke-width="1"/>
<rect x="473.64" y="243.06" width="1.5" height="7.47" fill="#ee3a44"/>
<line x1="474.39" y1="240.55" x2="474.39" y2="250.79" stroke="#ee3a44" stroke-width="1"/>
<rect x="474.86" y="241.57" width="1.5" height="1.49" fill="#ee3a44"/>
<line x1="475.61" y1="240.21" x2="475.61" y2="243.06" stroke="#ee3a44" stroke-width="1"/>
<rect x="476.09" y="241.57" width="1.5" height="2.99" fill="#1f73ee"/>
<line x1="476.84" y1="240.00" x2="476.84" y2="244.56" stroke="#1f73ee" stroke-width="1"/>
<rect x="477.31" y="244.56" width="1.5" height="1.49" fill="#1f73ee"/>
<line x1="478.06" y1="243.06" x2="478.06" y2="247.68" stroke="#1f73ee" stroke-width="1"/>
<rect x="478.54" y="243.06" width="1.5" height="2.99" fill="#ee3a44"/>
<line x1="479.29" y1="243.06" x2="479.29" y2="246.64" stroke="#ee3a44" stroke-width="1"/>
<rect x="479.76" y="241.57" width="1.5" height="1.49" fill="#ee3a44"/>
<line x1="480.51" y1="240.08" x2="480.51" y2="244.56" stroke="#ee3a44" stroke-width="1"/>
<rect x="480.98" y="240.08" width="1.5" height="1.49" fill="#ee3a44"/>
<rect x="482.21" y="240.08" width="1.5" height="2.99" fill="#1f73ee"/>
<line x1="482.96" y1="238.36" x2="482.96" y2="244.56" stroke="#1f73ee" stroke-width="1"/>
<rect x="483.43" y="243.06" width="1.5" height="0.80" fill="#111"/>
<line x1="484.18" y1="240.08" x2="484.18" y2="244.56" stroke="#111" stroke-width="1"/>
<rect x="484.66" y="241.57" width="1.5" height="1.49" fill="#ee3a44"/>
<line x1="485.41" y1="240.08" x2="485.41" y2="244.56" stroke="#ee3a44" stroke-width="1"/>
<rect x="485.88" y="241.57" width="1.5" height="0.80" fill="#111"/>
<line x1="486.63" y1="238.58" x2="486.63" y2="243.06" stroke="#111" stroke-width="1"/>
<rect x="487.11" y="241.57" width="1.5" height="0.80" fill="#111"/>
<line x1="487.86" y1="241.57" x2="487.86" y2="243.06" stroke="#111" stroke-width="1"/>
<rect x="488.33" y="241.57" width="1.5" height="0.80" fill="#111"/>
<line x1="489.08" y1="238.62" x2="489.08" y2="244.56" stroke="#111" stroke-width="1"/>
<rect x="489.55" y="238.58" width="1.5" height="2.99" fill="#ee3a44"/>
<line x1="490.30" y1="237.09" x2="490.30" y2="243.06" stroke="#ee3a44" stroke-width="1"/>
<rect x="490.78" y="238.58" width="1.5" height="2.99" fill="#1f73ee"/>
<line x1="491.53" y1="235.60" x2="491.53" y2="241.57" stroke="#1f73ee" stroke-width="1"/>
<rect x="492.00" y="237.09" width="1.5" height="4.48" fill="#ee3a44"/>
<line x1="492.75" y1="235.60" x2="492.75" y2="242.02" stroke="#ee3a44" stroke-width="1"/>
<rect x="493.23" y="229.63" width="1.5" height="7.47" fill="#ee3a44"/>
<line x1="493.98" y1="227.14" x2="493.98" y2="239.23" stroke="#ee3a44" stroke-width="1"/>
<rect x="494.45" y="229.63" width="1.5" height="0.80" fill="#111"/>
<line x1="495.20" y1="228.13" x2="495.20" y2="231.12" stroke="#111" stroke-width="1"/>
<rect x="495.67" y="228.13" width="1.5" height="1.49" fill="#ee3a44"/>
<line x1="496.42" y1="226.81" x2="496.42" y2="232.61" stroke="#ee3a44" stroke-width="1"/>
<rect x="496.90" y="228.13" width="1.5" height="2.99" fill="#1f73ee"/>
<line x1="497.65" y1="228.13" x2="497.65" y2="234.10" stroke="#1f73ee" stroke-width="1"/>
<rect x="498.12" y="231.12" width="1.5" height="5.97" fill="#1f73ee"/>
<line x1="498.87" y1="230.91" x2="498.87" y2="238.58" stroke="#1f73ee" stroke-width="1"/>
<rect x="499.35" y="237.09" width="1.5" height="2.99" fill="#1f73ee"/>
<line x1="500.10" y1="235.60" x2="500.10" y2="241.70" stroke="#1f73ee" stroke-width="1"/>
<rect x="500.57" y="240.08" width="1.5" height="0.80" fill="#111"/>
<line x1="501.32" y1="237.09" x2="501.32" y2="241.57" stroke="#111" stroke-width="1"/>
<rect x="501.80" y="238.58" width="1.5" height="1.49" fill="#ee3a44"/>
<line x1="502.55" y1="237.20" x2="502.55" y2="243.06" stroke="#ee3a44" stroke-width="1"/>
<rect x="503.02" y="238.58" width="1.5" height="1.49" fill="#1f73ee"/>
<line x1="503.77" y1="238.24" x2="503.77" y2="244.56" stroke="#1f73ee" stroke-width="1"/>
<rect x="504.24" y="240.08" width="1.5" height="1.49" fill="#1f73ee"/>
<line x1="504.99" y1="239.29" x2="504.99" y2="243.06" stroke="#1f73ee" stroke-width="1"/>
<rect x="505.47" y="241.57" width="1.5" height="7.47" fill="#1f73ee"/>
<line x1="506.22" y1="240.33" x2="506.22" y2="252.02" stroke="#1f73ee" stroke-width="1"/>
<rect x="506.69" y="249.03" width="1.5" height="7.47" fill="#1f73ee"/>
<line x1="507.44" y1="247.54" x2="507.44" y2="258.74" stroke="#1f73ee" stroke-width="1"/>
<rect x="507.92" y="256.50" width="1.5" height="0.80" fill="#111"/>
<line x1="508.67" y1="255.01" x2="508.67" y2="257.70" stroke="#111" stroke-width="1"/>
<rect x="509.14" y="244.56" width="1.5" height="11.94" fill="#ee3a44"/>
<line x1="509.89" y1="241.63" x2="509.89" y2="256.50" stroke="#ee3a44" stroke-width="1"/>
<rect x="510.37" y="244.56" width="1.5" height="1.49" fill="#1f73ee"/>
<line x1="511.12" y1="243.06" x2="511.12" y2="247.54" stroke="#1f73ee" stroke-width="1"/>
<rect x="511.59" y="238.58" width="1.5" height="7.47" fill="#ee3a44"/>
<line x1="512.34" y1="238.08" x2="512.34" y2="247.54" stroke="#ee3a44" stroke-width="1"/>
<rect x="512.81" y="238.58" width="1.5" height="2.99" fill="#1f73ee"/>
<line x1="513.56" y1="238.58" x2="513.56" y2="243.06" stroke="#1f73ee" stroke-width="1"/>
<rect x="514.04" y="241.57" width="1.5" height="7.47" fill="#1f73ee"/>
<line x1="514.79" y1="239.61" x2="514.79" y2="250.53" stroke="#1f73ee" stroke-width="1"/>
<rect x="515.26" y="249.03" width="1.5" height="8.96" fill="#1f73ee"/>
<line x1="516.01" y1="247.54" x2="516.01" y2="258.59" stroke="#1f73ee" stroke-width="1"/>
<rect x="516.49" y="252.02" width="1.5" height="5.97" fill="#ee3a44"/>
<line x1="517.24" y1="247.54" x2="517.24" y2="257.99" stroke="#ee3a44" stroke-width="1"/>
<rect x="517.71" y="250.53" width="1.5" height="1.49" fill="#ee3a44"/>
<line x1="518.46" y1="247.54" x2="518.46" y2="255.01" stroke="#ee3a44" stroke-width="1"/>
<rect x="518.94" y="247.54" width="1.5" height="2.99" fill="#ee3a44"/>
<line x1="519.69" y1="245.52" x2="519.69" y2="255.01" stroke="#ee3a44" stroke-width="1"/>
<rect x="520.16" y="244.56" width="1.5" height="2.99" fill="#ee3a44"/>
<line x1="520.91" y1="243.01" x2="520.91" y2="252.02" stroke="#ee3a44" stroke-width="1"/>
<rect x="521.38" y="244.56" width="1.5" height="4.48" fill="#1f73ee"/>
<line x1="522.13" y1="243.06" x2="522.13" y2="250.53" stroke="#1f73ee" stroke-width="1"/>
<rect x="522.61" y="247.54" width="1.5" height="1.49" fill="#ee3a44"/>
<line x1="523.36" y1="244.56" x2="523.36" y2="249.03" stroke="#ee3a44" stroke-width="1"/>
<rect x="523.83" y="246.05" width="1.5" height="1.49" fill="#ee3a44"/>
<line x1="524.58" y1="243.06" x2="524.58" y2="247.54" stroke="#ee3a44" stroke-width="1"/>
<rect x="525.06" y="241.57" width="1.5" height="4.48" fill="#ee3a44"/>
<line x1="525.81" y1="237.09" x2="525.81" y2="246.05" stroke="#ee3a44" stroke-width="1"/>
<rect x="526.28" y="240.08" width="1.5" height="1.49" fill="#ee3a44"/>
<line x1="527.03" y1="237.09" x2="527.03" y2="243.84" stroke="#ee3a44" stroke-width="1"/>
<rect x="527.50" y="235.60" width="1.5" height="4.48" fill="#ee3a44"/>
<line x1="528.25" y1="234.43" x2="528.25" y2="241.57" stroke="#ee3a44" stroke-width="1"/>
<rect x="528.73" y="235.60" width="1.5" height="2.99" fill="#1f73ee"/>
<line x1="529.48" y1="234.62" x2="529.48" y2="240.08" stroke="#1f73ee" stroke-width="1"/>
<rect x="529.95" y="238.58" width="1.5" height="4.48" fill="#1f73ee"/>
<rect x="531.18" y="243.06" width="1.5" height="1.49" fill="#1f73ee"/>
<line x1="531.93" y1="241.57" x2="531.93" y2="246.00" stroke="#1f73ee" stroke-width="1"/>
<rect x="532.40" y="244.56" width="1.5" height="0.80" fill="#111"/>
<line x1="533.15" y1="240.08" x2="533.15" y2="247.35" stroke="#111" stroke-width="1"/>
<rect x="533.63" y="238.58" width="1.5" height="5.97" fill="#ee3a44"/>
<line x1="534.38" y1="238.58" x2="534.38" y2="247.25" stroke="#ee3a44" stroke-width="1"/>
<rect x="534.85" y="238.58" width="1.5" height="1.49" fill="#1f73ee"/>
<line x1="535.60" y1="237.09" x2="535.60" y2="243.06" stroke="#1f73ee" stroke-width="1"/>
<rect x="536.85" y="190.00" width="1.5" height="29.00" fill="#ee3a44"/>
<line x1="537.60" y1="187.00" x2="537.60" y2="221.00" stroke="#ee3a44" stroke-width="1"/>
<rect x="538.07" y="190.00" width="1.5" height="21.00" fill="#1f73ee"/>
<line x1="538.82" y1="186.20" x2="538.82" y2="212.00" stroke="#1f73ee" stroke-width="1"/>
<rect x="539.29" y="211.00" width="1.5" height="3.00" fill="#1f73ee"/>
<line x1="540.04" y1="209.00" x2="540.04" y2="224.00" stroke="#1f73ee" stroke-width="1"/>
<rect x="540.51" y="214.00" width="1.5" height="12.00" fill="#1f73ee"/>
<line x1="541.26" y1="212.00" x2="541.26" y2="229.00" stroke="#1f73ee" stroke-width="1"/>
<rect x="541.73" y="220.49" width="1.5" height="8.96" fill="#1f73ee"/>
<line x1="542.48" y1="220.49" x2="542.48" y2="232.44" stroke="#1f73ee" stroke-width="1"/>
<rect x="542.95" y="229.45" width="1.5" height="14.93" fill="#1f73ee"/>
<line x1="543.70" y1="227.96" x2="543.70" y2="245.87" stroke="#1f73ee" stroke-width="1"/>
<rect x="544.17" y="244.38" width="1.5" height="7.47" fill="#1f73ee"/>
<line x1="544.92" y1="242.89" x2="544.92" y2="253.07" stroke="#1f73ee" stroke-width="1"/>
<rect x="545.39" y="247.37" width="1.5" height="4.48" fill="#ee3a44"/>
<line x1="546.14" y1="245.87" x2="546.14" y2="253.34" stroke="#ee3a44" stroke-width="1"/>
<rect x="546.61" y="236.91" width="1.5" height="10.45" fill="#ee3a44"/>
<line x1="547.36" y1="233.85" x2="547.36" y2="250.35" stroke="#ee3a44" stroke-width="1"/>
<rect x="547.84" y="236.91" width="1.5" height="0.80" fill="#111"/>
<line x1="548.59" y1="234.26" x2="548.59" y2="239.90" stroke="#111" stroke-width="1"/>
<rect x="549.06" y="236.91" width="1.5" height="4.48" fill="#1f73ee"/>
<line x1="549.81" y1="234.67" x2="549.81" y2="244.38" stroke="#1f73ee" stroke-width="1"/>
<rect x="550.28" y="241.39" width="1.5" height="7.47" fill="#1f73ee"/>
<line x1="551.03" y1="236.91" x2="551.03" y2="253.34" stroke="#1f73ee" stroke-width="1"/>
<rect x="551.50" y="248.86" width="1.5" height="4.48" fill="#1f73ee"/>
<line x1="552.25" y1="245.87" x2="552.25" y2="254.51" stroke="#1f73ee" stroke-width="1"/>
<rect x="552.72" y="245.87" width="1.5" height="7.47" fill="#ee3a44"/>
<line x1="553.47" y1="244.38" x2="553.47" y2="253.34" stroke="#ee3a44" stroke-width="1"/>
<rect x="553.94" y="232.44" width="1.5" height="13.44" fill="#ee3a44"/>
<line x1="554.69" y1="229.45" x2="554.69" y2="247.37" stroke="#ee3a44" stroke-width="1"/>
<rect x="555.16" y="229.45" width="1.5" height="2.99" fill="#ee3a44"/>
<line x1="555.91" y1="226.46" x2="555.91" y2="233.93" stroke="#ee3a44" stroke-width="1"/>
<rect x="556.38" y="229.45" width="1.5" height="7.47" fill="#1f73ee"/>
<line x1="557.13" y1="227.96" x2="557.13" y2="238.41" stroke="#1f73ee" stroke-width="1"/>
<rect x="557.60" y="235.42" width="1.5" height="1.49" fill="#ee3a44"/>
<line x1="558.35" y1="233.93" x2="558.35" y2="238.41" stroke="#ee3a44" stroke-width="1"/>
<rect x="558.82" y="233.93" width="1.5" height="1.49" fill="#ee3a44"/>
<line x1="559.57" y1="232.44" x2="559.57" y2="236.72" stroke="#ee3a44" stroke-width="1"/>
<rect x="560.04" y="233.93" width="1.5" height="0.80" fill="#111"/>
<line x1="560.79" y1="229.45" x2="560.79" y2="235.42" stroke="#111" stroke-width="1"/>
<rect x="561.26" y="232.44" width="1.5" height="1.49" fill="#ee3a44"/>
<line x1="562.01" y1="229.11" x2="562.01" y2="235.42" stroke="#ee3a44" stroke-width="1"/>
<rect x="562.48" y="232.44" width="1.5" height="0.80" fill="#111"/>
<line x1="563.23" y1="231.73" x2="563.23" y2="235.42" stroke="#111" stroke-width="1"/>
<rect x="563.70" y="232.44" width="1.5" height="5.97" fill="#1f73ee"/>
<line x1="564.45" y1="232.44" x2="564.45" y2="241.39" stroke="#1f73ee" stroke-width="1"/>
<rect x="564.92" y="238.41" width="1.5" height="5.97" fill="#1f73ee"/>
<line x1="565.67" y1="237.09" x2="565.67" y2="244.38" stroke="#1f73ee" stroke-width="1"/>
<rect x="566.14" y="244.38" width="1.5" height="2.99" fill="#1f73ee"/>
<line x1="566.89" y1="242.89" x2="566.89" y2="247.70" stroke="#1f73ee" stroke-width="1"/>
<rect x="567.37" y="244.38" width="1.5" height="2.99" fill="#ee3a44"/>
<line x1="568.12" y1="242.89" x2="568.12" y2="248.65" stroke="#ee3a44" stroke-width="1"/>
<rect x="568.59" y="239.90" width="1.5" height="4.48" fill="#ee3a44"/>
<line x1="569.34" y1="236.91" x2="569.34" y2="248.86" stroke="#ee3a44" stroke-width="1"/>
<rect x="569.81" y="238.41" width="1.5" height="1.49" fill="#ee3a44"/>
<line x1="570.56" y1="235.42" x2="570.56" y2="244.38" stroke="#ee3a44" stroke-width="1"/>
<rect x="571.03" y="238.41" width="1.5" height="0.80" fill="#111"/>
<line x1="571.78" y1="236.91" x2="571.78" y2="241.39" stroke="#111" stroke-width="1"/>
<rect x="572.25" y="238.41" width="1.5" height="7.47" fill="#1f73ee"/>
<line x1="573.00" y1="237.45" x2="573.00" y2="247.37" stroke="#1f73ee" stroke-width="1"/>
<rect x="573.47" y="245.87" width="1.5" height="2.99" fill="#1f73ee"/>
<line x1="574.22" y1="244.38" x2="574.22" y2="250.35" stroke="#1f73ee" stroke-width="1"/>
<rect x="574.69" y="248.86" width="1.5" height="2.99" fill="#1f73ee"/>
<line x1="575.44" y1="247.37" x2="575.44" y2="253.34" stroke="#1f73ee" stroke-width="1"/>
<rect x="575.91" y="241.39" width="1.5" height="10.45" fill="#ee3a44"/>
<line x1="576.66" y1="238.81" x2="576.66" y2="253.34" stroke="#ee3a44" stroke-width="1"/>
<rect x="577.13" y="239.90" width="1.5" height="1.49" fill="#ee3a44"/>
<line x1="577.88" y1="238.41" x2="577.88" y2="244.38" stroke="#ee3a44" stroke-width="1"/>
<rect x="578.35" y="239.90" width="1.5" height="1.49" fill="#1f73ee"/>
<line x1="579.10" y1="239.34" x2="579.10" y2="242.89" stroke="#1f73ee" stroke-width="1"/>
<rect x="579.57" y="241.39" width="1.5" height="4.48" fill="#1f73ee"/>
<line x1="580.32" y1="241.29" x2="580.32" y2="248.86" stroke="#1f73ee" stroke-width="1"/>
<rect x="580.79" y="245.87" width="1.5" height="5.97" fill="#1f73ee"/>
<line x1="581.54" y1="243.25" x2="581.54" y2="251.84" stroke="#1f73ee" stroke-width="1"/>
<rect x="582.01" y="251.84" width="1.5" height="4.48" fill="#1f73ee"/>
<line x1="582.76" y1="250.35" x2="582.76" y2="257.62" stroke="#1f73ee" stroke-width="1"/>
<rect x="583.23" y="256.32" width="1.5" height="0.80" fill="#111"/>
<line x1="583.98" y1="253.34" x2="583.98" y2="257.82" stroke="#111" stroke-width="1"/>
<rect x="584.45" y="251.84" width="1.5" height="4.48" fill="#ee3a44"/>
<line x1="585.20" y1="251.84" x2="585.20" y2="259.31" stroke="#ee3a44" stroke-width="1"/>
<rect x="585.67" y="247.37" width="1.5" height="4.48" fill="#ee3a44"/>
<line x1="586.42" y1="245.87" x2="586.42" y2="254.83" stroke="#ee3a44" stroke-width="1"/>
<rect x="586.89" y="245.87" width="1.5" height="1.49" fill="#ee3a44"/>
<line x1="587.64" y1="244.38" x2="587.64" y2="248.86" stroke="#ee3a44" stroke-width="1"/>
<rect x="588.12" y="245.87" width="1.5" height="1.49" fill="#1f73ee"/>
<line x1="588.87" y1="241.39" x2="588.87" y2="250.35" stroke="#1f73ee" stroke-width="1"/>
<rect x="589.34" y="247.37" width="1.5" height="0.80" fill="#111"/>
<line x1="590.09" y1="245.87" x2="590.09" y2="248.86" stroke="#111" stroke-width="1"/>
<rect x="590.56" y="244.38" width="1.5" height="2.99" fill="#ee3a44"/>
<line x1="591.31" y1="239.90" x2="591.31" y2="247.74" stroke="#ee3a44" stroke-width="1"/>
<rect x="591.78" y="241.39" width="1.5" height="2.99" fill="#ee3a44"/>
<line x1="592.53" y1="236.91" x2="592.53" y2="244.38" stroke="#ee3a44" stroke-width="1"/>
<rect x="593.00" y="235.42" width="1.5" height="5.97" fill="#ee3a44"/>
<line x1="593.75" y1="232.87" x2="593.75" y2="242.89" stroke="#ee3a44" stroke-width="1"/>
<rect x="594.22" y="235.42" width="1.5" height="0.80" fill="#111"/>
<line x1="594.97" y1="233.32" x2="594.97" y2="236.91" stroke="#111" stroke-width="1"/>
<rect x="595.44" y="235.42" width="1.5" height="0.80" fill="#111"/>
<line x1="596.19" y1="233.93" x2="596.19" y2="236.91" stroke="#111" stroke-width="1"/>
<rect x="596.66" y="235.42" width="1.5" height="7.47" fill="#1f73ee"/>
<line x1="597.41" y1="234.22" x2="597.41" y2="242.89" stroke="#1f73ee" stroke-width="1"/>
<rect x="597.88" y="242.89" width="1.5" height="1.49" fill="#1f73ee"/>
<line x1="598.63" y1="241.39" x2="598.63" y2="245.16" stroke="#1f73ee" stroke-width="1"/>
<rect x="599.10" y="241.39" width="1.5" height="2.99" fill="#ee3a44"/>
<line x1="599.85" y1="239.90" x2="599.85" y2="244.43" stroke="#ee3a44" stroke-width="1"/>
<rect x="600.32" y="239.90" width="1.5" height="1.49" fill="#ee3a44"/>
<line x1="601.07" y1="238.41" x2="601.07" y2="243.70" stroke="#ee3a44" stroke-width="1"/>
<rect x="601.54" y="236.91" width="1.5" height="2.99" fill="#ee3a44"/>
<line x1="602.29" y1="236.91" x2="602.29" y2="242.96" stroke="#ee3a44" stroke-width="1"/>
<rect x="602.76" y="233.93" width="1.5" height="2.99" fill="#ee3a44"/>
<line x1="603.51" y1="232.73" x2="603.51" y2="239.90" stroke="#ee3a44" stroke-width="1"/>
<rect x="603.98" y="233.93" width="1.5" height="2.99" fill="#1f73ee"/>
<line x1="604.73" y1="230.94" x2="604.73" y2="239.90" stroke="#1f73ee" stroke-width="1"/>
<rect x="605.20" y="236.91" width="1.5" height="1.49" fill="#1f73ee"/>
<line x1="605.95" y1="233.93" x2="605.95" y2="239.35" stroke="#1f73ee" stroke-width="1"/>
<rect x="606.42" y="232.44" width="1.5" height="5.97" fill="#ee3a44"/>
<line x1="607.17" y1="230.94" x2="607.17" y2="238.41" stroke="#ee3a44" stroke-width="1"/>
<rect x="607.65" y="222.00" width="1.5" height="14.00" fill="#ee3a44"/>
<line x1="608.40" y1="220.00" x2="608.40" y2="237.00" stroke="#ee3a44" stroke-width="1"/>
<rect x="608.87" y="214.00" width="1.5" height="8.00" fill="#ee3a44"/>
<line x1="609.62" y1="213.00" x2="609.62" y2="224.00" stroke="#ee3a44" stroke-width="1"/>
<rect x="610.09" y="214.00" width="1.5" height="12.00" fill="#1f73ee"/>
<line x1="610.84" y1="212.20" x2="610.84" y2="230.00" stroke="#1f73ee" stroke-width="1"/>
<rect x="611.31" y="226.00" width="1.5" height="6.00" fill="#1f73ee"/>
<line x1="612.06" y1="224.00" x2="612.06" y2="233.00" stroke="#1f73ee" stroke-width="1"/>
<rect x="612.53" y="223.00" width="1.5" height="9.00" fill="#ee3a44"/>
<line x1="613.28" y1="221.00" x2="613.28" y2="234.00" stroke="#ee3a44" stroke-width="1"/>
<rect x="613.75" y="223.00" width="1.5" height="13.00" fill="#1f73ee"/>
<line x1="614.50" y1="222.00" x2="614.50" y2="238.00" stroke="#1f73ee" stroke-width="1"/>
<rect x="614.97" y="236.00" width="1.5" height="14.00" fill="#1f73ee"/>
<line x1="615.72" y1="234.00" x2="615.72" y2="252.00" stroke="#1f73ee" stroke-width="1"/>
<rect x="616.19" y="250.00" width="1.5" height="8.00" fill="#1f73ee"/>
<line x1="616.94" y1="248.00" x2="616.94" y2="262.00" stroke="#1f73ee" stroke-width="1"/>
<rect x="617.41" y="258.00" width="1.5" height="5.00" fill="#1f73ee"/>
<line x1="618.16" y1="256.00" x2="618.16" y2="266.00" stroke="#1f73ee" stroke-width="1"/>
<rect x="618.63" y="263.00" width="1.5" height="27.00" fill="#1f73ee"/>
<line x1="619.38" y1="261.00" x2="619.38" y2="292.60" stroke="#1f73ee" stroke-width="1"/>
<rect x="619.85" y="270.00" width="1.5" height="20.00" fill="#ee3a44"/>
<line x1="620.60" y1="268.00" x2="620.60" y2="291.50" stroke="#ee3a44" stroke-width="1"/>
<rect x="621.07" y="240.00" width="1.5" height="30.00" fill="#ee3a44"/>
<line x1="621.82" y1="238.00" x2="621.82" y2="272.00" stroke="#ee3a44" stroke-width="1"/>
<rect x="622.29" y="218.00" width="1.5" height="22.00" fill="#ee3a44"/>
<line x1="623.04" y1="215.80" x2="623.04" y2="242.00" stroke="#ee3a44" stroke-width="1"/>
<rect x="623.51" y="218.00" width="1.5" height="27.00" fill="#1f73ee"/>
<line x1="624.26" y1="216.50" x2="624.26" y2="247.00" stroke="#1f73ee" stroke-width="1"/>
<rect x="624.73" y="245.00" width="1.5" height="7.00" fill="#1f73ee"/>
<line x1="625.48" y1="241.00" x2="625.48" y2="258.00" stroke="#1f73ee" stroke-width="1"/>
<rect x="625.95" y="246.00" width="1.5" height="6.00" fill="#ee3a44"/>
<line x1="626.70" y1="244.00" x2="626.70" y2="258.00" stroke="#ee3a44" stroke-width="1"/>
<rect x="627.17" y="246.00" width="1.5" height="12.00" fill="#1f73ee"/>
<line x1="627.92" y1="244.00" x2="627.92" y2="260.00" stroke="#1f73ee" stroke-width="1"/>
<rect x="628.40" y="258.00" width="1.5" height="10.00" fill="#1f73ee"/>
<line x1="629.15" y1="256.00" x2="629.15" y2="272.00" stroke="#1f73ee" stroke-width="1"/>
<rect x="629.62" y="268.00" width="1.5" height="7.00" fill="#1f73ee"/>
<line x1="630.37" y1="262.00" x2="630.37" y2="277.00" stroke="#1f73ee" stroke-width="1"/>
<rect x="630.84" y="275.00" width="1.5" height="6.70" fill="#1f73ee"/>
<line x1="631.59" y1="259.31" x2="631.59" y2="290.00" stroke="#1f73ee" stroke-width="1"/>
<rect x="632.06" y="281.70" width="1.5" height="20.90" fill="#1f73ee"/>
<line x1="632.81" y1="281.70" x2="632.81" y2="304.10" stroke="#1f73ee" stroke-width="1"/>
<rect x="633.28" y="302.61" width="1.5" height="14.93" fill="#1f73ee"/>
<line x1="634.03" y1="299.62" x2="634.03" y2="319.03" stroke="#1f73ee" stroke-width="1"/>
<rect x="634.50" y="317.54" width="1.5" height="2.99" fill="#1f73ee"/>
<line x1="635.25" y1="316.04" x2="635.25" y2="322.02" stroke="#1f73ee" stroke-width="1"/>
<rect x="635.72" y="313.06" width="1.5" height="7.46" fill="#ee3a44"/>
<line x1="636.47" y1="312.22" x2="636.47" y2="322.02" stroke="#ee3a44" stroke-width="1"/>
<rect x="636.94" y="313.06" width="1.5" height="8.96" fill="#1f73ee"/>
<line x1="637.69" y1="313.06" x2="637.69" y2="323.51" stroke="#1f73ee" stroke-width="1"/>
<rect x="638.16" y="322.02" width="1.5" height="16.42" fill="#1f73ee"/>
<line x1="638.91" y1="320.52" x2="638.91" y2="341.03" stroke="#1f73ee" stroke-width="1"/>
<rect x="639.38" y="338.44" width="1.5" height="2.99" fill="#1f73ee"/>
<line x1="640.13" y1="336.95" x2="640.13" y2="342.92" stroke="#1f73ee" stroke-width="1"/>
<rect x="640.60" y="341.42" width="1.5" height="0.80" fill="#111"/>
<line x1="641.35" y1="338.44" x2="641.35" y2="342.92" stroke="#111" stroke-width="1"/>
<rect x="641.82" y="341.42" width="1.5" height="5.97" fill="#1f73ee"/>
<line x1="642.57" y1="340.29" x2="642.57" y2="351.88" stroke="#1f73ee" stroke-width="1"/>
<rect x="643.04" y="347.40" width="1.5" height="5.97" fill="#1f73ee"/>
<line x1="643.79" y1="345.90" x2="643.79" y2="357.85" stroke="#1f73ee" stroke-width="1"/>
<rect x="644.26" y="353.37" width="1.5" height="10.45" fill="#1f73ee"/>
<line x1="645.01" y1="350.38" x2="645.01" y2="368.30" stroke="#1f73ee" stroke-width="1"/>
<rect x="645.48" y="363.82" width="1.5" height="0.80" fill="#111"/>
<line x1="646.23" y1="362.33" x2="646.23" y2="365.31" stroke="#111" stroke-width="1"/>
<rect x="646.70" y="363.82" width="1.5" height="1.49" fill="#1f73ee"/>
<line x1="647.45" y1="362.33" x2="647.45" y2="369.79" stroke="#1f73ee" stroke-width="1"/>
<rect x="647.93" y="359.34" width="1.5" height="5.97" fill="#ee3a44"/>
<line x1="648.68" y1="356.35" x2="648.68" y2="365.31" stroke="#ee3a44" stroke-width="1"/>
<rect x="649.15" y="359.34" width="1.5" height="0.80" fill="#111"/>
<line x1="649.90" y1="354.86" x2="649.90" y2="363.82" stroke="#111" stroke-width="1"/>
<rect x="650.37" y="359.34" width="1.5" height="4.48" fill="#1f73ee"/>
<line x1="651.12" y1="359.34" x2="651.12" y2="365.31" stroke="#1f73ee" stroke-width="1"/>
<rect x="651.59" y="363.82" width="1.5" height="10.45" fill="#1f73ee"/>
<line x1="652.34" y1="363.59" x2="652.34" y2="375.76" stroke="#1f73ee" stroke-width="1"/>
<rect x="652.81" y="374.27" width="1.5" height="5.97" fill="#1f73ee"/>
<line x1="653.56" y1="369.79" x2="653.56" y2="384.72" stroke="#1f73ee" stroke-width="1"/>
<rect x="654.03" y="377.26" width="1.5" height="2.99" fill="#ee3a44"/>
<line x1="654.78" y1="375.76" x2="654.78" y2="381.94" stroke="#ee3a44" stroke-width="1"/>
<rect x="655.25" y="359.34" width="1.5" height="17.92" fill="#ee3a44"/>
<line x1="656.00" y1="356.35" x2="656.00" y2="377.26" stroke="#ee3a44" stroke-width="1"/>
<rect x="656.47" y="351.88" width="1.5" height="7.46" fill="#ee3a44"/>
<line x1="657.22" y1="350.38" x2="657.22" y2="360.83" stroke="#ee3a44" stroke-width="1"/>
<rect x="657.69" y="347.40" width="1.5" height="4.48" fill="#ee3a44"/>
<line x1="658.44" y1="344.41" x2="658.44" y2="353.37" stroke="#ee3a44" stroke-width="1"/>
<rect x="658.91" y="347.40" width="1.5" height="2.99" fill="#1f73ee"/>
<line x1="659.66" y1="344.41" x2="659.66" y2="350.38" stroke="#1f73ee" stroke-width="1"/>
<rect x="660.13" y="350.38" width="1.5" height="8.96" fill="#1f73ee"/>
<line x1="660.88" y1="348.89" x2="660.88" y2="362.33" stroke="#1f73ee" stroke-width="1"/>
<rect x="661.35" y="359.34" width="1.5" height="10.45" fill="#1f73ee"/>
<line x1="662.10" y1="357.85" x2="662.10" y2="370.65" stroke="#1f73ee" stroke-width="1"/>
<rect x="662.57" y="369.79" width="1.5" height="0.80" fill="#111"/>
<line x1="663.32" y1="368.30" x2="663.32" y2="374.27" stroke="#111" stroke-width="1"/>
<rect x="663.79" y="365.31" width="1.5" height="4.48" fill="#ee3a44"/>
<line x1="664.54" y1="363.82" x2="664.54" y2="371.28" stroke="#ee3a44" stroke-width="1"/>
<rect x="665.01" y="360.83" width="1.5" height="4.48" fill="#ee3a44"/>
<line x1="665.76" y1="359.34" x2="665.76" y2="369.79" stroke="#ee3a44" stroke-width="1"/>
<rect x="666.23" y="360.83" width="1.5" height="1.49" fill="#1f73ee"/>
<line x1="666.98" y1="360.83" x2="666.98" y2="366.81" stroke="#1f73ee" stroke-width="1"/>
<rect x="667.45" y="362.33" width="1.5" height="13.44" fill="#1f73ee"/>
<line x1="668.20" y1="362.33" x2="668.20" y2="377.26" stroke="#1f73ee" stroke-width="1"/>
<rect x="668.68" y="375.76" width="1.5" height="10.45" fill="#1f73ee"/>
<line x1="669.43" y1="375.76" x2="669.43" y2="387.71" stroke="#1f73ee" stroke-width="1"/>
<rect x="669.90" y="386.21" width="1.5" height="10.45" fill="#1f73ee"/>
<line x1="670.65" y1="381.74" x2="670.65" y2="396.67" stroke="#1f73ee" stroke-width="1"/>
<rect x="671.12" y="396.67" width="1.5" height="2.99" fill="#1f73ee"/>
<line x1="671.87" y1="393.68" x2="671.87" y2="402.64" stroke="#1f73ee" stroke-width="1"/>
<rect x="672.34" y="384.72" width="1.5" height="14.93" fill="#ee3a44"/>
<rect x="673.56" y="374.27" width="1.5" height="10.45" fill="#ee3a44"/>
<line x1="674.31" y1="371.28" x2="674.31" y2="385.84" stroke="#ee3a44" stroke-width="1"/>
<rect x="674.78" y="363.82" width="1.5" height="10.45" fill="#ee3a44"/>
<line x1="675.53" y1="362.48" x2="675.53" y2="375.76" stroke="#ee3a44" stroke-width="1"/>
<rect x="676.00" y="363.82" width="1.5" height="2.99" fill="#1f73ee"/>
<line x1="676.75" y1="360.29" x2="676.75" y2="369.79" stroke="#1f73ee" stroke-width="1"/>
<rect x="677.22" y="366.81" width="1.5" height="0.80" fill="#111"/>
<line x1="677.97" y1="365.31" x2="677.97" y2="371.28" stroke="#111" stroke-width="1"/>
<rect x="678.44" y="366.81" width="1.5" height="5.97" fill="#1f73ee"/>
<rect x="679.66" y="372.78" width="1.5" height="0.80" fill="#111"/>
<line x1="680.41" y1="369.79" x2="680.41" y2="373.97" stroke="#111" stroke-width="1"/>
<rect x="680.88" y="363.82" width="1.5" height="8.96" fill="#ee3a44"/>
<line x1="681.63" y1="363.82" x2="681.63" y2="373.35" stroke="#ee3a44" stroke-width="1"/>
<rect x="682.10" y="360.83" width="1.5" height="2.99" fill="#ee3a44"/>
<line x1="682.85" y1="359.34" x2="682.85" y2="363.82" stroke="#ee3a44" stroke-width="1"/>
<rect x="683.32" y="359.34" width="1.5" height="1.49" fill="#ee3a44"/>
<line x1="684.07" y1="357.85" x2="684.07" y2="363.82" stroke="#ee3a44" stroke-width="1"/>
<rect x="684.54" y="359.34" width="1.5" height="7.46" fill="#1f73ee"/>
<line x1="685.29" y1="358.36" x2="685.29" y2="369.79" stroke="#1f73ee" stroke-width="1"/>
<rect x="685.76" y="366.81" width="1.5" height="5.97" fill="#1f73ee"/>
<line x1="686.51" y1="365.31" x2="686.51" y2="375.76" stroke="#1f73ee" stroke-width="1"/>
<rect x="686.98" y="372.78" width="1.5" height="7.46" fill="#1f73ee"/>
<line x1="687.73" y1="372.78" x2="687.73" y2="381.74" stroke="#1f73ee" stroke-width="1"/>
<rect x="688.21" y="380.24" width="1.5" height="4.48" fill="#1f73ee"/>
<line x1="688.96" y1="380.24" x2="688.96" y2="385.37" stroke="#1f73ee" stroke-width="1"/>
<rect x="689.43" y="377.26" width="1.5" height="7.46" fill="#ee3a44"/>
<line x1="690.18" y1="375.76" x2="690.18" y2="387.49" stroke="#ee3a44" stroke-width="1"/>
<rect x="690.65" y="371.28" width="1.5" height="5.97" fill="#ee3a44"/>
<line x1="691.40" y1="369.79" x2="691.40" y2="377.26" stroke="#ee3a44" stroke-width="1"/>
<rect x="691.87" y="371.28" width="1.5" height="2.99" fill="#1f73ee"/>
<line x1="692.62" y1="371.28" x2="692.62" y2="378.75" stroke="#1f73ee" stroke-width="1"/>
<rect x="693.09" y="374.27" width="1.5" height="8.96" fill="#1f73ee"/>
<line x1="693.84" y1="374.27" x2="693.84" y2="386.21" stroke="#1f73ee" stroke-width="1"/>
<rect x="694.31" y="383.23" width="1.5" height="2.99" fill="#1f73ee"/>
<line x1="695.06" y1="380.24" x2="695.06" y2="386.21" stroke="#1f73ee" stroke-width="1"/>
<rect x="695.53" y="386.21" width="1.5" height="0.80" fill="#111"/>
<line x1="696.28" y1="384.72" x2="696.28" y2="387.71" stroke="#111" stroke-width="1"/>
<rect x="696.75" y="386.21" width="1.5" height="2.99" fill="#1f73ee"/>
<line x1="697.50" y1="384.72" x2="697.50" y2="390.69" stroke="#1f73ee" stroke-width="1"/>
<rect x="697.97" y="389.20" width="1.5" height="0.80" fill="#111"/>
<line x1="698.72" y1="387.71" x2="698.72" y2="392.19" stroke="#111" stroke-width="1"/>
<rect x="699.19" y="380.24" width="1.5" height="8.96" fill="#ee3a44"/>
<line x1="699.94" y1="379.06" x2="699.94" y2="389.20" stroke="#ee3a44" stroke-width="1"/>
<rect x="700.41" y="380.24" width="1.5" height="5.97" fill="#1f73ee"/>
<line x1="701.16" y1="380.24" x2="701.16" y2="390.69" stroke="#1f73ee" stroke-width="1"/>
<rect x="701.63" y="386.21" width="1.5" height="5.97" fill="#1f73ee"/>
<line x1="702.38" y1="383.62" x2="702.38" y2="393.68" stroke="#1f73ee" stroke-width="1"/>
<rect x="702.85" y="392.19" width="1.5" height="13.44" fill="#1f73ee"/>
<line x1="703.60" y1="390.69" x2="703.60" y2="406.40" stroke="#1f73ee" stroke-width="1"/>
<rect x="704.07" y="402.64" width="1.5" height="2.99" fill="#ee3a44"/>
<line x1="704.82" y1="402.64" x2="704.82" y2="405.99" stroke="#ee3a44" stroke-width="1"/>
<rect x="705.29" y="401.14" width="1.5" height="1.49" fill="#ee3a44"/>
<line x1="706.04" y1="401.14" x2="706.04" y2="405.59" stroke="#ee3a44" stroke-width="1"/>
<rect x="706.51" y="395.17" width="1.5" height="5.97" fill="#ee3a44"/>
<line x1="707.26" y1="393.68" x2="707.26" y2="402.64" stroke="#ee3a44" stroke-width="1"/>
<rect x="707.73" y="392.19" width="1.5" height="2.99" fill="#ee3a44"/>
<line x1="708.48" y1="390.69" x2="708.48" y2="396.67" stroke="#ee3a44" stroke-width="1"/>
<rect x="708.96" y="392.19" width="1.5" height="2.99" fill="#1f73ee"/>
<line x1="709.71" y1="390.69" x2="709.71" y2="396.67" stroke="#1f73ee" stroke-width="1"/>
<rect x="710.18" y="395.17" width="1.5" height="4.48" fill="#1f73ee"/>
<line x1="710.93" y1="390.69" x2="710.93" y2="401.14" stroke="#1f73ee" stroke-width="1"/>
<rect x="711.40" y="399.65" width="1.5" height="0.80" fill="#111"/>
<line x1="712.15" y1="398.16" x2="712.15" y2="400.95" stroke="#111" stroke-width="1"/>
<rect x="712.62" y="398.16" width="1.5" height="1.49" fill="#ee3a44"/>
<line x1="713.37" y1="398.16" x2="713.37" y2="401.14" stroke="#ee3a44" stroke-width="1"/>
<rect x="713.84" y="398.16" width="1.5" height="1.49" fill="#1f73ee"/>
<line x1="714.59" y1="398.16" x2="714.59" y2="402.64" stroke="#1f73ee" stroke-width="1"/>
<rect x="715.06" y="393.68" width="1.5" height="5.97" fill="#ee3a44"/>
<line x1="715.81" y1="392.19" x2="715.81" y2="404.13" stroke="#ee3a44" stroke-width="1"/>
<rect x="716.28" y="393.68" width="1.5" height="5.97" fill="#1f73ee"/>
<line x1="717.03" y1="393.24" x2="717.03" y2="404.13" stroke="#1f73ee" stroke-width="1"/>
<rect x="717.50" y="399.65" width="1.5" height="4.48" fill="#1f73ee"/>
<line x1="718.25" y1="398.16" x2="718.25" y2="405.62" stroke="#1f73ee" stroke-width="1"/>
<rect x="718.72" y="404.13" width="1.5" height="8.96" fill="#1f73ee"/>
<line x1="719.47" y1="402.64" x2="719.47" y2="414.58" stroke="#1f73ee" stroke-width="1"/>
<rect x="719.94" y="413.09" width="1.5" height="2.99" fill="#1f73ee"/>
<line x1="720.69" y1="411.60" x2="720.69" y2="417.03" stroke="#1f73ee" stroke-width="1"/>
<rect x="721.16" y="410.10" width="1.5" height="5.97" fill="#ee3a44"/>
<line x1="721.91" y1="410.10" x2="721.91" y2="417.57" stroke="#ee3a44" stroke-width="1"/>
<rect x="722.38" y="404.13" width="1.5" height="5.97" fill="#ee3a44"/>
<line x1="723.13" y1="404.13" x2="723.13" y2="414.58" stroke="#ee3a44" stroke-width="1"/>
<rect x="723.60" y="404.13" width="1.5" height="5.97" fill="#1f73ee"/>
<line x1="724.35" y1="402.90" x2="724.35" y2="411.60" stroke="#1f73ee" stroke-width="1"/>
<rect x="724.82" y="410.10" width="1.5" height="7.46" fill="#1f73ee"/>
<line x1="725.57" y1="408.61" x2="725.57" y2="419.06" stroke="#1f73ee" stroke-width="1"/>
<rect x="726.04" y="417.57" width="1.5" height="10.45" fill="#1f73ee"/>
<line x1="726.79" y1="416.07" x2="726.79" y2="428.39" stroke="#1f73ee" stroke-width="1"/>
<rect x="727.26" y="422.05" width="1.5" height="5.97" fill="#ee3a44"/>
<line x1="728.01" y1="420.55" x2="728.01" y2="428.02" stroke="#ee3a44" stroke-width="1"/>
<rect x="728.49" y="407.12" width="1.5" height="14.93" fill="#ee3a44"/>
<rect x="729.71" y="399.65" width="1.5" height="7.46" fill="#ee3a44"/>
<line x1="730.46" y1="398.16" x2="730.46" y2="410.10" stroke="#ee3a44" stroke-width="1"/>
<rect x="730.93" y="393.68" width="1.5" height="5.97" fill="#ee3a44"/>
<line x1="731.68" y1="393.18" x2="731.68" y2="404.13" stroke="#ee3a44" stroke-width="1"/>
<rect x="732.15" y="393.68" width="1.5" height="10.45" fill="#1f73ee"/>
<line x1="732.90" y1="393.68" x2="732.90" y2="407.12" stroke="#1f73ee" stroke-width="1"/>
<rect x="733.37" y="404.13" width="1.5" height="8.96" fill="#1f73ee"/>
<line x1="734.12" y1="402.47" x2="734.12" y2="416.07" stroke="#1f73ee" stroke-width="1"/>
<rect x="734.59" y="413.09" width="1.5" height="2.99" fill="#1f73ee"/>
<line x1="735.34" y1="411.60" x2="735.34" y2="418.78" stroke="#1f73ee" stroke-width="1"/>
<rect x="735.81" y="411.60" width="1.5" height="4.48" fill="#ee3a44"/>
<line x1="736.56" y1="410.10" x2="736.56" y2="416.07" stroke="#ee3a44" stroke-width="1"/>
<rect x="737.03" y="404.13" width="1.5" height="7.46" fill="#ee3a44"/>
<line x1="737.78" y1="399.65" x2="737.78" y2="414.58" stroke="#ee3a44" stroke-width="1"/>
<rect x="738.25" y="400.10" width="1.5" height="4.03" fill="#ee3a44"/>
<line x1="739.00" y1="398.61" x2="739.00" y2="407.12" stroke="#ee3a44" stroke-width="1"/>
</g>
<polyline points="0.6,554.6 1.8,552.3 3.0,550.6 4.3,549.0 5.5,548.6 6.7,547.1 7.9,547.4 9.1,548.3 10.4,549.8 11.6,550.1 12.8,550.7 14.0,550.7 15.2,550.4 16.5,549.8 17.7,548.9 18.9,547.1 20.1,545.0 21.4,543.5 22.6,542.3 23.8,542.6 25.0,543.5 26.2,545.0 27.5,545.6 28.7,546.8 29.9,547.1 31.1,548.9 32.3,550.1 33.6,552.5 34.8,553.7 36.0,555.8 37.2,557.6 38.4,559.9 39.7,562.0 40.9,565.0 42.1,567.1 43.3,568.3 44.5,569.2 45.8,570.1 47.0,571.0 48.2,572.8 49.4,574.3 50.7,575.5 51.9,576.4 53.1,576.4 54.3,576.7 55.5,577.6 56.8,578.5 58.0,579.6 59.2,581.1 60.6,546.0 61.8,510.9 63.0,475.8 64.3,441.8 65.5,408.8 66.7,410.6 67.9,410.6 69.2,410.9 70.4,410.3 71.6,410.0 72.8,410.3 74.1,411.2 75.3,410.9 76.5,409.4 77.7,406.7 79.0,404.6 80.2,403.7 81.4,403.7 82.6,403.4 83.9,403.7 85.1,404.6 86.3,406.1 87.5,407.9 88.8,409.1 90.0,409.4 91.2,409.4 92.4,409.1 93.7,409.1 94.9,410.0 96.1,410.9 97.3,409.4 98.6,406.4 99.8,402.5 101.0,400.4 102.2,398.9 103.4,398.6 104.7,397.1 105.9,395.1 107.1,390.9 108.3,386.4 109.6,383.1 110.8,381.9 112.0,380.7 113.2,380.1 114.5,379.5 115.7,378.3 116.9,376.8 118.1,377.7 119.4,379.5 120.6,381.3 121.8,382.5 123.0,383.1 124.3,382.5 125.5,381.6 126.7,381.6 127.9,382.2 129.2,382.8 130.4,383.1 131.6,383.1 132.8,383.4 134.1,384.9 135.3,386.7 136.5,387.6 137.7,387.9 139.0,387.9 140.2,387.9 141.4,389.7 142.6,393.3 143.8,397.1 145.1,400.7 146.3,403.1 147.5,403.1 148.7,402.8 150.0,402.2 151.2,400.4 152.4,397.4 153.6,394.2 154.9,390.9 156.1,388.2 157.3,386.4 158.5,385.2 159.8,384.9 161.0,383.4 162.2,381.6 163.4,379.5 164.7,378.0 165.9,377.4 167.1,377.1 168.3,377.1 169.6,375.9 170.8,373.8 172.0,370.9 173.2,368.2 174.5,366.7 175.7,366.7 176.9,367.0 178.1,367.0 179.3,367.0 180.6,366.1 181.8,366.7 183.0,367.6 184.2,369.1 185.5,370.0 186.7,369.7 187.9,367.9 189.1,366.7 190.4,365.5 191.6,365.5 192.8,366.1 194.0,366.4 195.3,366.4 196.5,365.8 197.7,364.9 198.9,364.0 200.2,364.0 201.4,363.1 202.6,363.4 203.8,362.8 205.1,361.9 206.3,360.1 207.5,359.5 208.7,358.3 210.0,357.4 211.2,356.5 212.4,355.6 213.6,353.2 214.9,350.3 216.1,348.2 217.3,346.1 218.5,345.2 219.7,345.8 221.0,347.3 222.2,346.7 223.4,347.0 224.6,346.1 225.9,344.3 227.1,343.7 228.3,344.0 229.5,343.4 230.8,341.6 232.0,340.1 233.2,337.1 234.4,335.3 235.7,333.8 236.9,333.8 238.1,333.8 239.3,333.2 240.6,331.1 241.8,329.1 243.0,327.9 244.2,327.9 245.5,329.1 246.7,331.7 247.9,334.1 249.1,335.0 250.4,335.0 251.6,335.0 252.8,335.3 254.0,335.6 255.3,337.1 256.5,337.1 257.7,335.9 258.9,333.8 260.1,332.6 261.4,331.4 262.6,331.4 263.8,331.7 265.0,331.4 266.3,330.3 267.5,328.8 268.7,328.2 269.9,327.6 271.2,328.2 272.4,329.4 273.6,330.3 274.8,329.4 276.1,328.5 277.3,327.3 278.5,326.1 279.7,325.5 281.0,325.8 282.2,325.8 283.4,325.2 284.6,324.6 285.9,324.3 287.1,324.3 288.3,324.9 289.5,325.2 290.8,324.9 292.0,323.7 293.2,322.5 294.4,321.6 295.7,321.6 296.9,322.2 298.1,322.2 299.3,321.3 300.5,320.1 301.8,319.2 303.0,318.0 304.2,318.3 305.4,319.2 306.7,320.4 307.9,320.1 309.1,319.8 310.3,318.9 311.6,318.0 312.8,317.4 314.0,317.7 315.2,318.3 316.5,317.7 317.7,317.4 318.9,315.9 320.1,314.1 321.4,312.9 322.6,312.6 323.8,310.8 325.0,309.1 326.3,306.7 327.5,303.7 328.7,301.0 329.9,300.1 331.2,300.4 332.4,301.9 333.6,301.6 334.8,301.3 336.1,301.6 337.3,301.9 338.5,301.9 339.7,302.5 340.9,302.5 342.2,301.3 343.4,299.5 344.6,297.4 345.8,297.4 347.1,298.0 348.3,299.2 349.5,299.5 350.7,300.1 352.0,301.0 353.2,301.3 354.4,301.9 355.6,302.5 356.9,303.4 358.1,303.4 359.3,304.9 360.5,306.7 361.8,308.2 363.0,309.1 364.2,309.1 365.4,308.2 366.7,306.1 367.9,306.4 369.1,307.0 370.3,308.2 371.6,308.2 372.8,308.2 374.0,306.7 375.2,305.2 376.5,303.7 377.7,302.8 378.9,301.6 380.1,300.4 381.3,299.2 382.6,297.7 383.8,296.8 385.0,296.5 386.2,296.5 387.5,296.5 388.7,295.6 389.9,294.4 391.1,293.5 392.4,292.3 393.6,291.4 394.8,291.1 396.0,290.8 397.3,288.7 398.5,286.7 399.7,284.0 400.9,282.5 402.2,280.7 403.4,279.2 404.6,277.4 405.8,276.2 407.1,275.0 408.3,274.7 409.5,275.3 410.7,275.9 412.0,275.0 413.2,273.5 414.4,272.0 415.6,271.1 416.9,270.5 418.1,270.8 419.3,269.6 420.5,267.2 421.7,264.9 423.0,262.8 424.2,261.3 425.4,261.6 426.6,261.6 427.9,261.0 429.1,260.4 430.3,260.1 431.5,260.4 432.8,263.1 434.0,265.8 435.2,267.8 436.4,268.7 437.7,268.7 438.9,268.1 440.1,268.1 441.3,268.4 442.6,267.2 443.8,265.5 445.0,262.5 446.2,260.1 447.5,258.9 448.7,259.8 449.9,260.4 451.1,261.0 452.4,260.1 453.6,260.1 454.8,260.1 456.0,260.4 457.2,259.8 458.5,260.1 459.7,258.3 460.9,255.9 462.1,255.0 463.4,256.2 464.6,256.5 465.8,256.5 467.0,256.2 468.3,255.0 469.5,253.2 470.7,251.7 471.9,250.8 473.2,250.8 474.4,249.3 475.6,247.2 476.8,246.0 478.1,245.2 479.3,243.7 480.5,243.4 481.7,243.1 483.0,242.8 484.2,242.2 485.4,241.9 486.6,241.9 487.9,242.2 489.1,241.9 490.3,241.0 491.5,241.0 492.8,240.1 494.0,237.7 495.2,235.3 496.4,233.2 497.6,231.1 498.9,231.1 500.1,233.2 501.3,235.3 502.5,237.4 503.8,239.2 505.0,240.1 506.2,241.9 507.4,245.2 508.7,248.7 509.9,249.6 511.1,250.5 512.3,248.4 513.6,245.5 514.8,244.0 516.0,246.6 517.2,247.8 518.5,250.2 519.7,251.4 520.9,250.5 522.1,248.7 523.4,247.8 524.6,246.9 525.8,245.8 527.0,244.9 528.3,242.2 529.5,240.4 530.7,239.8 531.9,240.4 533.2,241.3 534.4,241.9 535.6,242.2 537.6,231.6 538.8,224.8 540.0,218.7 541.3,216.2 542.5,214.1 543.7,225.0 544.9,233.1 546.1,239.8 547.4,242.0 548.6,243.5 549.8,242.9 551.0,242.3 552.2,243.5 553.5,245.3 554.7,244.4 555.9,242.0 557.1,239.6 558.4,236.0 559.6,233.6 560.8,233.9 562.0,234.5 563.2,233.6 564.5,234.2 565.7,236.3 566.9,239.0 568.1,241.4 569.3,242.9 570.6,242.9 571.8,241.7 573.0,241.4 574.2,242.3 575.4,244.7 576.7,245.3 577.9,245.6 579.1,244.7 580.3,244.1 581.5,244.1 582.8,247.1 584.0,250.4 585.2,252.4 586.4,252.7 587.6,251.5 588.9,249.8 590.1,248.0 591.3,246.5 592.5,245.3 593.7,243.2 595.0,240.8 596.2,238.4 597.4,238.1 598.6,238.7 599.9,239.9 601.1,240.8 602.3,241.1 603.5,239.3 604.7,237.8 606.0,237.2 607.2,235.7 608.4,232.7 609.6,228.8 610.8,226.6 612.1,225.3 613.3,223.4 614.5,226.2 615.7,233.4 616.9,239.8 618.2,246.0 619.4,259.4 620.6,266.2 621.8,264.2 623.0,256.2 624.3,252.6 625.5,245.0 626.7,240.2 627.9,243.8 629.1,253.8 630.4,259.8 631.6,265.7 632.8,277.1 634.0,289.0 635.2,299.5 636.5,307.1 637.7,315.1 638.9,322.3 640.1,327.1 641.4,331.3 642.6,338.1 643.8,344.4 645.0,349.5 646.2,354.0 647.5,358.7 648.7,361.1 649.9,362.3 651.1,362.3 652.3,364.4 653.6,367.4 654.8,371.0 656.0,371.0 657.2,368.6 658.4,363.2 659.7,357.3 660.9,353.7 662.1,355.8 663.3,359.3 664.5,362.9 665.8,365.0 667.0,365.6 668.2,366.8 669.4,370.1 670.6,376.4 671.9,384.1 673.1,388.6 674.3,388.3 675.5,383.8 676.7,377.9 678.0,371.3 679.2,368.9 680.4,368.6 681.6,368.6 682.9,367.4 684.1,365.9 685.3,364.7 686.5,364.7 687.7,368.0 689.0,372.8 690.2,376.4 691.4,377.3 692.6,377.6 693.8,378.2 695.1,378.5 696.3,380.2 697.5,383.8 698.7,386.8 699.9,386.2 701.2,386.2 702.4,387.4 703.6,390.7 704.8,393.4 706.0,397.6 707.3,399.4 708.5,399.4 709.7,397.3 710.9,396.7 712.1,396.4 713.4,397.0 714.6,398.5 715.8,398.2 717.0,398.2 718.2,399.1 719.5,402.0 720.7,405.3 721.9,408.6 723.1,409.5 724.4,410.7 725.6,411.6 726.8,414.0 728.0,416.4 729.2,417.0 730.5,414.9 731.7,410.1 732.9,405.3 734.1,403.5 735.3,405.3 736.6,407.7 737.8,409.8 739.0,409.0" fill="none" stroke="#3cc83c" stroke-width="1"/>
</svg>
<div class="yl" style="top:171.0px">194,040</div>
<div class="yl" style="top:219.0px">190,806</div>
<div class="yl" style="top:267.0px">187,572</div>
<div class="yl" style="top:316.0px">184,338</div>
<div class="yl" style="top:364.0px">181,104</div>
<div class="yl" style="top:412.0px">177,870</div>
<div class="yl" style="top:461.0px">174,636</div>
<div class="yl" style="top:508.0px">171,402</div>
<div class="yl" style="top:557.0px">168,168</div>
<svg class="abs" style="left:0;top:0" width="862" height="613"><path d="M745.2,399.4 L755.6,389.3 Q756.8,388.2 758.5,388.2 H847 Q850,388.2 850,391.2 V407.7 Q850,410.7 847,410.7 H758.5 Q756.8,410.7 755.6,409.5 Z" fill="#445c9a"/></svg>
<div class="abs" style="left:759.8px;top:390px;font-size:14.7px;line-height:18px;color:#fff">179,300</div>
<svg class="abs" style="left:0;top:0" width="862" height="613"><polygon points="537,173.5 543.6,173.5 540.3,180" fill="#6681bd"/><polygon points="54,599 61,599 57.5,592.8" fill="#6681bd"/></svg>
<div class="ann h" style="left:546px;top:168px">최고</div><div class="ann" style="left:574px;top:170px"><b>193,600 (-7.39%)</b></div>
<div class="ann h" style="left:63px;top:586px">최저</div><div class="ann" style="left:91.5px;top:588px"><b>167,000 (7.37%)</b></div>
</body></html>
